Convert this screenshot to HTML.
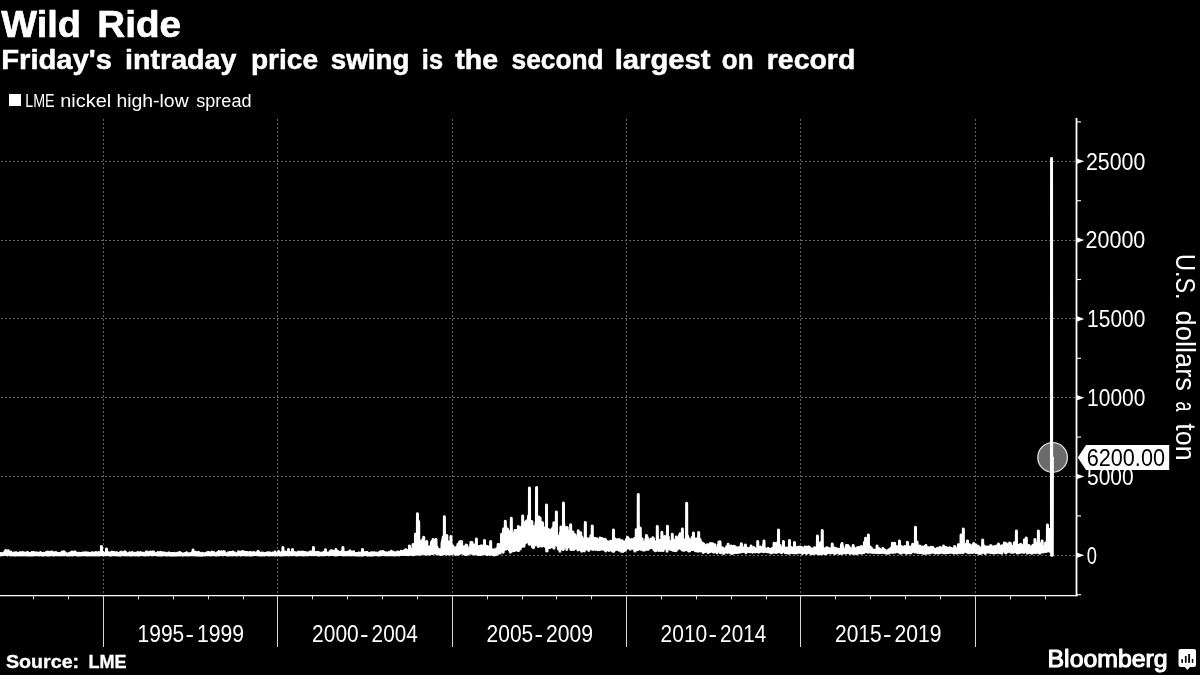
<!DOCTYPE html>
<html><head><meta charset="utf-8"><title>Wild Ride</title>
<style>
html,body{margin:0;padding:0;background:#000;}
body{width:1200px;height:675px;overflow:hidden;font-family:"Liberation Sans",sans-serif;}
svg{display:block;will-change:transform;}
text{font-family:"Liberation Sans",sans-serif;fill:#fff;}
.b{font-weight:bold;}
</style></head><body>
<svg width="1200" height="675" viewBox="0 0 1200 675">
<rect width="1200" height="675" fill="#000"/>
<rect x="9" y="94" width="12" height="12" fill="#fff"/>
<g stroke="#646464" stroke-width="1" stroke-dasharray="2 2" fill="none" shape-rendering="crispEdges">
<path d="M1 555.5 H1076.5"/>
<path d="M1 476.5 H1076.5"/>
<path d="M1 397.5 H1076.5"/>
<path d="M1 318.5 H1076.5"/>
<path d="M1 240.5 H1076.5"/>
<path d="M1 161.5 H1076.5"/>
<path d="M103.5 119 V595"/>
<path d="M277.5 119 V595"/>
<path d="M452.5 119 V595"/>
<path d="M626.5 119 V595"/>
<path d="M800.5 119 V595"/>
<path d="M975.5 119 V595"/>
</g>
<g stroke="#fff" fill="none">
<path d="M0 595.5 H1077.5" stroke-width="1.25"/>
<path d="M1076.5 118 V596.2" stroke-width="1.8"/>
<path d="M33.5 595 V599.4" stroke-width="1" stroke="#e0e0e0"/>
<path d="M68.5 595 V599.4" stroke-width="1" stroke="#e0e0e0"/>
<path d="M103.5 595 V647" stroke-width="1" stroke="#d8d8d8"/>
<path d="M138.5 595 V599.4" stroke-width="1" stroke="#e0e0e0"/>
<path d="M173.5 595 V599.4" stroke-width="1" stroke="#e0e0e0"/>
<path d="M208.5 595 V599.4" stroke-width="1" stroke="#e0e0e0"/>
<path d="M243.5 595 V599.4" stroke-width="1" stroke="#e0e0e0"/>
<path d="M277.5 595 V647" stroke-width="1" stroke="#d8d8d8"/>
<path d="M312.5 595 V599.4" stroke-width="1" stroke="#e0e0e0"/>
<path d="M347.5 595 V599.4" stroke-width="1" stroke="#e0e0e0"/>
<path d="M382.5 595 V599.4" stroke-width="1" stroke="#e0e0e0"/>
<path d="M417.5 595 V599.4" stroke-width="1" stroke="#e0e0e0"/>
<path d="M452.5 595 V647" stroke-width="1" stroke="#d8d8d8"/>
<path d="M487.5 595 V599.4" stroke-width="1" stroke="#e0e0e0"/>
<path d="M522.5 595 V599.4" stroke-width="1" stroke="#e0e0e0"/>
<path d="M556.5 595 V599.4" stroke-width="1" stroke="#e0e0e0"/>
<path d="M591.5 595 V599.4" stroke-width="1" stroke="#e0e0e0"/>
<path d="M626.5 595 V647" stroke-width="1" stroke="#d8d8d8"/>
<path d="M661.5 595 V599.4" stroke-width="1" stroke="#e0e0e0"/>
<path d="M696.5 595 V599.4" stroke-width="1" stroke="#e0e0e0"/>
<path d="M731.5 595 V599.4" stroke-width="1" stroke="#e0e0e0"/>
<path d="M766.5 595 V599.4" stroke-width="1" stroke="#e0e0e0"/>
<path d="M800.5 595 V647" stroke-width="1" stroke="#d8d8d8"/>
<path d="M835.5 595 V599.4" stroke-width="1" stroke="#e0e0e0"/>
<path d="M870.5 595 V599.4" stroke-width="1" stroke="#e0e0e0"/>
<path d="M905.5 595 V599.4" stroke-width="1" stroke="#e0e0e0"/>
<path d="M940.5 595 V599.4" stroke-width="1" stroke="#e0e0e0"/>
<path d="M975.5 595 V647" stroke-width="1" stroke="#d8d8d8"/>
<path d="M1010.5 595 V599.4" stroke-width="1" stroke="#e0e0e0"/>
<path d="M1045.5 595 V599.4" stroke-width="1" stroke="#e0e0e0"/>
<path d="M1076.5 594.7 H1081.0" stroke-width="1.1"/>
<path d="M1076.5 515.9 H1081.0" stroke-width="1.1"/>
<path d="M1076.5 437.1 H1081.0" stroke-width="1.1"/>
<path d="M1076.5 358.3 H1081.0" stroke-width="1.1"/>
<path d="M1076.5 279.5 H1081.0" stroke-width="1.1"/>
<path d="M1076.5 200.7 H1081.0" stroke-width="1.1"/>
<path d="M1076.5 121.9 H1081.0" stroke-width="1.1"/>
</g>
<path d="M1076.5 552.5 L1084.3 555.3 L1076.5 558.1 Z" fill="#fff"/>
<path d="M1076.5 473.7 L1084.3 476.5 L1076.5 479.3 Z" fill="#fff"/>
<path d="M1076.5 394.9 L1084.3 397.7 L1076.5 400.5 Z" fill="#fff"/>
<path d="M1076.5 316.1 L1084.3 318.9 L1076.5 321.7 Z" fill="#fff"/>
<path d="M1076.5 237.3 L1084.3 240.1 L1076.5 242.9 Z" fill="#fff"/>
<path d="M1076.5 158.5 L1084.3 161.3 L1076.5 164.1 Z" fill="#fff"/>
<circle cx="1052.6" cy="457.4" r="14.8" fill="#6b6b6b" stroke="#dcdcdc" stroke-width="1.3"/>
<path d="M0.00 554.1L0.13 554.6L0.27 554.4L0.40 553.5L0.53 554.9L0.67 554.1L0.80 553.5L0.93 554.4L1.07 554.3L1.20 554.7L1.33 554.1L1.47 554.3L1.60 553.7L1.73 554.0L1.87 553.8L2.00 554.4L2.13 554.4L2.27 554.3L2.40 554.3L2.53 554.8L2.67 553.8L2.80 554.0L2.93 554.7L3.07 554.6L3.20 554.4L3.33 554.1L3.47 554.4L3.60 554.1L3.73 553.3L3.87 554.4L4.00 553.5L4.13 554.1L4.27 553.3L4.40 553.6L4.53 554.2L4.67 554.2L4.80 551.9L4.93 552.6L5.07 553.0L5.20 552.9L5.33 553.9L5.47 551.0L5.60 552.6L5.73 554.5L5.87 550.5L6.00 552.6L6.13 554.3L6.27 553.2L6.40 552.7L6.53 551.7L6.67 552.8L6.80 553.9L6.93 554.4L7.07 553.3L7.20 554.4L7.33 553.1L7.47 554.9L7.60 551.0L7.73 554.4L7.87 553.6L8.00 552.9L8.13 551.2L8.27 550.7L8.40 554.1L8.53 551.7L8.67 553.4L8.80 554.3L8.93 554.3L9.07 554.1L9.20 553.8L9.33 553.8L9.47 553.0L9.60 554.1L9.73 552.2L9.87 554.1L10.00 554.7L10.13 553.9L10.27 553.7L10.40 555.0L10.53 553.7L10.67 553.9L10.80 552.0L10.93 553.6L11.07 554.9L11.20 554.8L11.33 554.9L11.47 553.0L11.60 554.7L11.73 553.4L11.87 554.6L12.00 554.5L12.13 554.6L12.27 553.6L12.40 554.1L12.53 554.6L12.67 554.7L12.80 553.6L12.93 553.4L13.07 553.8L13.20 554.0L13.33 554.7L13.47 554.8L13.60 554.1L13.73 552.9L13.87 553.8L14.00 554.6L14.13 553.8L14.27 553.2L14.40 553.5L14.53 555.0L14.67 554.6L14.80 554.5L14.93 553.5L15.07 554.9L15.20 555.0L15.33 553.8L15.47 554.1L15.60 553.5L15.73 554.7L15.87 552.7L16.00 554.4L16.13 554.2L16.27 554.4L16.40 554.8L16.53 552.8L16.67 554.3L16.80 554.3L16.93 554.6L17.07 554.1L17.20 554.7L17.33 554.8L17.47 555.0L17.60 554.6L17.73 554.3L17.87 554.3L18.00 554.6L18.13 553.6L18.27 554.8L18.40 554.8L18.53 553.7L18.67 554.5L18.80 554.7L18.93 553.7L19.07 554.9L19.20 553.8L19.33 554.8L19.47 554.5L19.60 554.6L19.73 555.0L19.87 554.8L20.00 552.7L20.13 554.4L20.27 554.5L20.40 552.7L20.53 554.7L20.67 553.9L20.80 554.6L20.93 554.4L21.07 554.5L21.20 554.6L21.33 553.1L21.47 554.1L21.60 554.5L21.73 554.9L21.87 554.5L22.00 554.4L22.13 553.3L22.27 552.9L22.40 554.8L22.53 554.8L22.67 553.7L22.80 554.9L22.93 552.4L23.07 554.3L23.20 554.4L23.33 554.4L23.47 554.4L23.60 554.4L23.73 553.5L23.87 554.6L24.00 554.5L24.13 554.5L24.27 554.6L24.40 553.4L24.53 553.7L24.67 555.0L24.80 554.2L24.93 553.1L25.07 554.4L25.20 554.4L25.33 553.7L25.47 554.6L25.60 553.4L25.73 553.4L25.87 553.5L26.00 553.7L26.13 554.4L26.27 553.8L26.40 554.4L26.53 553.1L26.67 554.7L26.80 554.8L26.93 554.6L27.07 554.9L27.20 554.5L27.33 552.5L27.47 552.4L27.60 554.4L27.73 552.6L27.87 553.9L28.00 554.7L28.13 554.5L28.27 553.6L28.40 554.2L28.53 555.0L28.67 554.3L28.80 554.4L28.93 554.4L29.07 554.2L29.20 554.3L29.33 554.6L29.47 554.6L29.60 554.1L29.73 555.1L29.87 554.4L30.00 553.5L30.13 554.1L30.27 553.6L30.40 554.4L30.53 554.4L30.67 555.0L30.80 553.7L30.93 554.8L31.07 554.0L31.20 554.4L31.33 554.8L31.47 555.0L31.60 554.7L31.73 554.7L31.87 554.4L32.00 552.6L32.13 554.9L32.27 554.7L32.40 554.8L32.53 554.9L32.67 554.7L32.80 554.5L32.93 553.6L33.07 554.2L33.20 554.8L33.33 552.4L33.47 554.7L33.60 554.8L33.73 554.5L33.87 554.3L34.00 554.9L34.13 554.3L34.27 554.8L34.40 553.7L34.53 554.2L34.67 554.2L34.80 552.7L34.93 554.6L35.07 554.5L35.20 554.3L35.33 554.5L35.47 554.7L35.60 553.7L35.73 553.4L35.87 553.3L36.00 554.3L36.13 554.3L36.27 554.3L36.40 553.8L36.53 554.7L36.67 552.9L36.80 554.2L36.93 554.1L37.07 553.0L37.20 553.2L37.33 554.5L37.47 554.3L37.60 553.2L37.73 553.8L37.87 554.2L38.00 554.5L38.13 554.8L38.27 554.3L38.40 554.4L38.53 554.6L38.67 554.1L38.80 554.3L38.93 554.0L39.07 554.3L39.20 554.6L39.33 554.9L39.47 554.3L39.60 554.6L39.73 552.9L39.87 554.8L40.00 553.8L40.13 554.8L40.27 554.7L40.40 554.6L40.53 552.6L40.67 554.7L40.80 554.2L40.93 553.3L41.07 554.4L41.20 554.3L41.33 553.6L41.47 554.5L41.60 553.7L41.73 553.6L41.87 555.0L42.00 554.1L42.13 554.8L42.27 554.6L42.40 554.1L42.53 554.7L42.67 555.1L42.80 553.6L42.93 555.0L43.07 554.2L43.20 553.4L43.33 554.2L43.47 554.6L43.60 554.7L43.73 554.6L43.87 553.2L44.00 554.1L44.13 554.9L44.27 554.0L44.40 553.4L44.53 554.2L44.67 554.9L44.80 554.8L44.93 554.5L45.07 554.6L45.20 553.6L45.33 554.6L45.47 553.4L45.60 553.7L45.73 553.8L45.87 553.2L46.00 554.8L46.13 554.7L46.27 552.6L46.40 554.4L46.53 553.9L46.67 554.4L46.80 554.3L46.93 554.3L47.07 554.5L47.20 554.0L47.33 555.0L47.47 553.5L47.60 552.7L47.73 554.4L47.87 552.1L48.00 554.3L48.13 553.8L48.27 554.3L48.40 554.2L48.53 554.9L48.67 554.5L48.80 554.8L48.93 554.8L49.07 554.9L49.20 554.2L49.33 554.2L49.47 554.6L49.60 553.9L49.73 555.0L49.87 553.9L50.00 553.3L50.13 552.2L50.27 553.9L50.40 553.2L50.53 554.5L50.67 553.7L50.80 554.7L50.93 554.1L51.07 553.6L51.20 552.4L51.33 554.4L51.47 553.6L51.60 552.6L51.73 553.1L51.87 554.7L52.00 552.1L52.13 554.4L52.27 554.6L52.40 554.2L52.53 553.6L52.67 554.6L52.80 554.3L52.93 552.4L53.07 554.6L53.20 554.2L53.33 553.2L53.47 554.8L53.60 554.0L53.73 553.8L53.87 554.7L54.00 555.1L54.13 553.4L54.27 553.1L54.40 554.2L54.53 554.8L54.67 553.8L54.80 554.4L54.93 554.1L55.07 554.4L55.20 554.5L55.33 554.6L55.47 554.2L55.60 554.4L55.73 554.4L55.87 552.4L56.00 553.5L56.13 553.8L56.27 554.0L56.40 553.3L56.53 553.8L56.67 553.9L56.80 554.8L56.93 554.2L57.07 554.6L57.20 554.5L57.33 554.0L57.47 554.5L57.60 554.5L57.73 553.6L57.87 553.6L58.00 553.6L58.13 553.9L58.27 554.7L58.40 554.5L58.53 554.7L58.67 554.5L58.80 554.0L58.93 554.8L59.07 553.6L59.20 554.7L59.33 553.9L59.47 553.9L59.60 554.1L59.73 554.4L59.87 554.3L60.00 554.9L60.13 553.9L60.27 554.2L60.40 553.7L60.53 554.4L60.67 554.8L60.80 554.2L60.93 553.3L61.07 553.8L61.20 554.4L61.33 554.8L61.47 553.0L61.60 554.6L61.73 553.5L61.87 553.1L62.00 554.2L62.13 554.9L62.27 552.0L62.40 554.4L62.53 553.9L62.67 554.6L62.80 552.4L62.93 553.7L63.07 552.3L63.20 552.4L63.33 554.4L63.47 554.4L63.60 554.8L63.73 554.7L63.87 552.6L64.00 551.8L64.13 552.7L64.27 554.4L64.40 554.2L64.53 554.0L64.67 554.1L64.80 554.4L64.93 554.7L65.07 553.3L65.20 554.2L65.33 553.1L65.47 553.4L65.60 554.3L65.73 554.2L65.87 554.4L66.00 554.4L66.13 554.5L66.27 554.4L66.40 554.1L66.53 554.8L66.67 554.9L66.80 554.3L66.93 554.9L67.07 554.1L67.20 554.8L67.33 554.6L67.47 554.1L67.60 554.5L67.73 555.1L67.87 555.0L68.00 554.9L68.13 554.7L68.27 554.1L68.40 554.6L68.53 554.3L68.67 554.6L68.80 554.0L68.93 554.4L69.07 554.9L69.20 555.0L69.33 554.0L69.47 553.3L69.60 554.9L69.73 553.9L69.87 553.9L70.00 554.5L70.13 553.9L70.27 554.3L70.40 554.8L70.53 554.1L70.67 554.5L70.80 554.1L70.93 553.5L71.07 554.7L71.20 554.2L71.33 552.5L71.47 554.5L71.60 554.6L71.73 554.2L71.87 555.0L72.00 552.8L72.13 551.9L72.27 554.0L72.40 554.6L72.53 554.6L72.67 554.3L72.80 555.0L72.93 554.0L73.07 553.4L73.20 554.5L73.33 553.6L73.47 554.8L73.60 553.4L73.73 554.6L73.87 553.5L74.00 554.5L74.13 552.7L74.27 552.2L74.40 553.7L74.53 554.1L74.67 554.4L74.80 552.1L74.93 553.8L75.07 554.5L75.20 553.0L75.33 552.0L75.47 554.1L75.60 553.9L75.73 552.9L75.87 554.3L76.00 554.6L76.13 553.6L76.27 554.8L76.40 554.5L76.53 554.9L76.67 554.6L76.80 554.7L76.93 554.7L77.07 554.2L77.20 555.0L77.33 553.8L77.47 553.6L77.60 554.5L77.73 554.8L77.87 554.9L78.00 554.3L78.13 554.5L78.27 554.3L78.40 553.2L78.53 553.9L78.67 554.7L78.80 554.8L78.93 554.1L79.07 554.3L79.20 554.8L79.33 553.5L79.47 553.7L79.60 553.9L79.73 553.2L79.87 554.9L80.00 554.0L80.13 553.9L80.27 554.3L80.40 554.3L80.53 554.3L80.67 554.1L80.80 554.2L80.93 554.5L81.07 554.0L81.20 554.3L81.33 553.6L81.47 554.9L81.60 553.6L81.73 554.4L81.87 554.0L82.00 553.9L82.13 554.4L82.27 554.1L82.40 554.4L82.53 553.2L82.67 554.7L82.80 554.6L82.93 553.3L83.07 553.5L83.20 553.7L83.33 553.4L83.47 553.9L83.60 553.4L83.73 553.5L83.87 554.3L84.00 554.5L84.13 554.1L84.27 554.7L84.40 554.1L84.53 553.7L84.67 553.1L84.80 554.7L84.93 554.1L85.07 554.5L85.20 554.9L85.33 554.4L85.47 553.7L85.60 553.4L85.73 552.8L85.87 554.3L86.00 554.0L86.13 554.2L86.27 554.4L86.40 553.6L86.53 554.4L86.67 554.7L86.80 554.9L86.93 554.0L87.07 553.0L87.20 554.1L87.33 554.6L87.47 553.8L87.60 554.2L87.73 554.2L87.87 554.7L88.00 554.4L88.13 555.0L88.27 553.1L88.40 555.0L88.53 554.6L88.67 554.6L88.80 554.2L88.93 554.2L89.07 553.7L89.20 554.1L89.33 554.1L89.47 553.5L89.60 554.2L89.73 553.9L89.87 553.6L90.00 554.9L90.13 554.5L90.27 554.1L90.40 554.2L90.53 554.1L90.67 554.6L90.80 554.0L90.93 554.3L91.07 554.7L91.20 553.0L91.33 553.4L91.47 554.9L91.60 553.7L91.73 554.6L91.87 554.8L92.00 554.1L92.13 552.8L92.27 554.7L92.40 554.4L92.53 553.7L92.67 553.7L92.80 554.4L92.93 553.8L93.07 554.6L93.20 554.2L93.33 554.0L93.47 554.3L93.60 554.6L93.73 554.8L93.87 554.5L94.00 553.1L94.13 553.5L94.27 555.0L94.40 554.6L94.53 553.5L94.67 554.4L94.80 554.1L94.93 554.9L95.07 554.0L95.20 554.1L95.33 554.5L95.47 554.4L95.60 553.8L95.73 553.9L95.87 554.8L96.00 552.6L96.13 554.4L96.27 553.3L96.40 554.7L96.53 554.6L96.67 554.7L96.80 553.1L96.93 554.9L97.07 554.5L97.20 554.9L97.33 554.9L97.47 553.8L97.60 554.6L97.73 554.2L97.87 554.8L98.00 554.4L98.13 554.8L98.27 554.7L98.40 554.8L98.53 553.8L98.67 554.0L98.80 552.4L98.93 554.1L99.07 553.9L99.20 554.3L99.33 553.7L99.47 554.9L99.60 553.2L99.73 554.7L99.87 554.2L100.00 554.7L100.13 554.4L100.27 553.7L100.40 554.2L100.53 554.0L100.67 553.9L100.80 554.2L100.93 554.4L101.07 552.9L101.20 553.6L101.33 553.9L101.47 546.5L101.60 553.6L101.73 553.8L101.87 551.8L102.00 554.0L102.13 554.6L102.27 553.6L102.40 554.7L102.53 551.9L102.67 555.0L102.80 553.5L102.93 554.4L103.07 553.9L103.20 553.8L103.33 552.7L103.47 553.0L103.60 554.0L103.73 554.1L103.87 554.3L104.00 554.8L104.13 553.3L104.27 554.8L104.40 554.1L104.53 554.3L104.67 554.5L104.80 554.1L104.93 554.3L105.07 553.6L105.20 554.8L105.33 553.3L105.47 553.8L105.60 554.5L105.73 553.8L105.87 554.5L106.00 554.7L106.13 554.5L106.27 553.9L106.40 553.5L106.53 549.0L106.67 553.8L106.80 554.6L106.93 552.3L107.07 552.9L107.20 552.1L107.33 553.4L107.47 553.4L107.60 554.6L107.73 552.9L107.87 554.4L108.00 553.5L108.13 554.2L108.27 554.6L108.40 554.5L108.53 554.8L108.67 554.7L108.80 554.3L108.93 553.1L109.07 554.7L109.20 554.7L109.33 554.0L109.47 554.7L109.60 554.4L109.73 554.7L109.87 554.7L110.00 554.5L110.13 554.2L110.27 554.8L110.40 555.1L110.53 553.8L110.67 552.9L110.80 554.5L110.93 554.9L111.07 554.7L111.20 554.8L111.33 554.3L111.47 554.7L111.60 552.3L111.73 554.1L111.87 554.5L112.00 553.0L112.13 553.8L112.27 554.7L112.40 552.2L112.53 554.8L112.67 554.6L112.80 554.5L112.93 554.0L113.07 554.1L113.20 554.8L113.33 553.8L113.47 553.0L113.60 554.8L113.73 552.8L113.87 552.7L114.00 554.6L114.13 552.4L114.27 554.0L114.40 553.4L114.53 554.4L114.67 554.6L114.80 553.8L114.93 554.7L115.07 553.9L115.20 554.4L115.33 553.7L115.47 554.1L115.60 554.6L115.73 553.2L115.87 552.9L116.00 553.4L116.13 553.8L116.27 554.4L116.40 553.4L116.53 553.3L116.67 552.7L116.80 552.7L116.93 554.8L117.07 554.5L117.20 554.9L117.33 554.3L117.47 554.2L117.60 553.9L117.73 553.4L117.87 554.8L118.00 554.4L118.13 554.7L118.27 554.3L118.40 555.0L118.53 554.8L118.67 553.5L118.80 554.1L118.93 553.6L119.07 554.8L119.20 554.9L119.33 554.1L119.47 554.2L119.60 554.2L119.73 554.8L119.87 554.5L120.00 554.2L120.13 554.7L120.27 555.1L120.40 553.8L120.53 553.6L120.67 552.2L120.80 553.4L120.93 553.5L121.07 554.4L121.20 552.9L121.33 554.7L121.47 552.3L121.60 554.9L121.73 553.6L121.87 553.9L122.00 554.4L122.13 553.8L122.27 554.2L122.40 552.7L122.53 552.8L122.67 553.0L122.80 553.7L122.93 554.0L123.07 554.5L123.20 553.9L123.33 553.0L123.47 554.4L123.60 554.3L123.73 554.4L123.87 554.2L124.00 553.5L124.13 554.9L124.27 554.0L124.40 552.2L124.53 554.8L124.67 552.9L124.80 553.9L124.93 551.8L125.07 554.8L125.20 553.8L125.33 553.7L125.47 552.2L125.60 553.0L125.73 554.8L125.87 554.3L126.00 554.2L126.13 553.8L126.27 554.6L126.40 553.7L126.53 554.2L126.67 554.1L126.80 553.8L126.93 553.9L127.07 554.4L127.20 553.9L127.33 553.8L127.47 554.3L127.60 554.8L127.73 554.2L127.87 554.3L128.00 554.9L128.13 553.7L128.27 554.1L128.40 554.8L128.53 553.8L128.67 554.6L128.80 554.4L128.93 554.1L129.07 554.8L129.20 554.8L129.33 553.4L129.47 553.1L129.60 554.7L129.73 552.8L129.87 554.9L130.00 553.8L130.13 553.9L130.27 554.6L130.40 554.4L130.53 554.6L130.67 554.3L130.80 554.7L130.93 555.1L131.07 554.4L131.20 554.7L131.33 554.7L131.47 554.1L131.60 553.9L131.73 554.5L131.87 553.1L132.00 554.7L132.13 554.0L132.27 552.5L132.40 554.7L132.53 553.7L132.67 554.6L132.80 553.3L132.93 554.4L133.07 554.2L133.20 555.0L133.33 554.5L133.47 553.9L133.60 553.9L133.73 553.7L133.87 553.9L134.00 553.9L134.13 554.7L134.27 554.0L134.40 554.8L134.53 554.7L134.67 554.5L134.80 554.7L134.93 553.2L135.07 554.6L135.20 554.0L135.33 553.7L135.47 554.2L135.60 554.9L135.73 554.8L135.87 554.5L136.00 554.7L136.13 553.3L136.27 554.3L136.40 554.7L136.53 554.3L136.67 554.7L136.80 554.6L136.93 554.7L137.07 553.6L137.20 554.6L137.33 554.9L137.47 554.9L137.60 554.7L137.73 554.5L137.87 552.5L138.00 554.7L138.13 554.2L138.27 554.4L138.40 553.9L138.53 553.7L138.67 553.7L138.80 553.4L138.93 554.5L139.07 554.9L139.20 554.7L139.33 554.8L139.47 555.0L139.60 554.7L139.73 553.6L139.87 553.2L140.00 553.4L140.13 553.4L140.27 554.5L140.40 554.5L140.53 552.6L140.67 552.7L140.80 554.4L140.93 554.4L141.07 554.4L141.20 554.2L141.33 554.3L141.47 554.4L141.60 554.0L141.73 554.2L141.87 554.7L142.00 554.1L142.13 554.2L142.27 554.3L142.40 554.2L142.53 554.7L142.67 554.2L142.80 554.2L142.93 554.4L143.07 553.7L143.20 553.1L143.33 554.6L143.47 554.4L143.60 554.8L143.73 553.7L143.87 554.5L144.00 554.5L144.13 554.1L144.27 554.4L144.40 554.1L144.53 554.9L144.67 554.0L144.80 554.7L144.93 554.2L145.07 554.9L145.20 554.1L145.33 555.0L145.47 554.5L145.60 553.4L145.73 553.9L145.87 552.6L146.00 554.2L146.13 554.6L146.27 552.0L146.40 553.7L146.53 553.0L146.67 554.6L146.80 552.6L146.93 553.0L147.07 552.1L147.20 553.6L147.33 553.4L147.47 554.8L147.60 554.7L147.73 553.4L147.87 553.5L148.00 552.7L148.13 553.8L148.27 554.8L148.40 553.9L148.53 554.9L148.67 552.7L148.80 553.8L148.93 554.7L149.07 554.2L149.20 554.3L149.33 554.2L149.47 554.5L149.60 552.5L149.73 554.5L149.87 552.4L150.00 553.1L150.13 554.3L150.27 553.0L150.40 554.6L150.53 554.2L150.67 553.7L150.80 551.9L150.93 553.8L151.07 553.9L151.20 553.6L151.33 553.3L151.47 554.3L151.60 554.7L151.73 554.2L151.87 553.8L152.00 552.5L152.13 554.4L152.27 553.4L152.40 554.4L152.53 555.0L152.67 554.0L152.80 554.6L152.93 552.0L153.07 554.1L153.20 554.6L153.33 553.9L153.47 552.5L153.60 553.9L153.73 551.9L153.87 554.1L154.00 554.1L154.13 554.1L154.27 554.0L154.40 554.5L154.53 554.1L154.67 553.6L154.80 554.6L154.93 553.8L155.07 554.2L155.20 554.5L155.33 554.6L155.47 554.4L155.60 554.4L155.73 553.9L155.87 554.7L156.00 554.5L156.13 554.5L156.27 553.6L156.40 553.5L156.53 554.4L156.67 554.5L156.80 554.4L156.93 553.4L157.07 554.7L157.20 554.0L157.33 554.3L157.47 554.5L157.60 554.3L157.73 554.7L157.87 554.9L158.00 552.6L158.13 554.4L158.27 554.8L158.40 554.5L158.53 553.2L158.67 554.6L158.80 554.2L158.93 555.0L159.07 554.5L159.20 555.0L159.33 555.0L159.47 554.7L159.60 554.7L159.73 552.8L159.87 554.2L160.00 553.2L160.13 554.9L160.27 554.7L160.40 553.9L160.53 552.3L160.67 554.5L160.80 552.7L160.93 555.0L161.07 554.4L161.20 554.4L161.33 554.7L161.47 554.9L161.60 554.7L161.73 554.7L161.87 553.9L162.00 554.2L162.13 554.6L162.27 554.9L162.40 554.8L162.53 553.9L162.67 553.2L162.80 555.0L162.93 552.8L163.07 554.6L163.20 554.5L163.33 554.5L163.47 553.7L163.60 554.4L163.73 553.9L163.87 554.4L164.00 554.6L164.13 553.2L164.27 553.6L164.40 554.2L164.53 553.5L164.67 554.5L164.80 553.9L164.93 553.3L165.07 554.3L165.20 553.9L165.33 554.8L165.47 555.0L165.60 554.6L165.73 554.8L165.87 554.6L166.00 554.6L166.13 553.8L166.27 553.2L166.40 554.8L166.53 554.9L166.67 554.8L166.80 554.4L166.93 554.4L167.07 554.6L167.20 554.3L167.33 554.9L167.47 554.0L167.60 554.8L167.73 554.1L167.87 554.9L168.00 554.3L168.13 554.4L168.27 554.5L168.40 554.2L168.53 554.4L168.67 554.6L168.80 554.4L168.93 553.0L169.07 554.1L169.20 552.9L169.33 554.5L169.47 553.7L169.60 553.2L169.73 554.9L169.87 554.1L170.00 554.5L170.13 554.8L170.27 553.5L170.40 554.5L170.53 554.8L170.67 553.7L170.80 554.7L170.93 554.1L171.07 554.9L171.20 555.1L171.33 555.0L171.47 554.4L171.60 553.5L171.73 554.9L171.87 554.1L172.00 554.6L172.13 554.9L172.27 554.8L172.40 553.7L172.53 553.6L172.67 554.4L172.80 555.0L172.93 554.2L173.07 555.0L173.20 555.0L173.33 553.6L173.47 554.8L173.60 554.6L173.73 554.9L173.87 555.1L174.00 553.8L174.13 554.7L174.27 553.9L174.40 554.8L174.53 553.3L174.67 554.4L174.80 554.8L174.93 554.8L175.07 555.0L175.20 554.1L175.33 554.6L175.47 555.0L175.60 554.9L175.73 554.2L175.87 554.7L176.00 554.2L176.13 554.4L176.27 555.0L176.40 554.3L176.53 554.4L176.67 555.0L176.80 553.8L176.93 554.6L177.07 555.0L177.20 553.3L177.33 554.8L177.47 554.7L177.60 554.4L177.73 554.2L177.87 554.8L178.00 554.6L178.13 553.6L178.27 553.0L178.40 553.9L178.53 554.1L178.67 554.8L178.80 553.9L178.93 554.7L179.07 554.9L179.20 553.7L179.33 553.0L179.47 554.0L179.60 553.6L179.73 554.5L179.87 554.1L180.00 552.6L180.13 554.8L180.27 554.3L180.40 554.2L180.53 553.8L180.67 554.9L180.80 553.6L180.93 553.4L181.07 553.9L181.20 553.8L181.33 554.3L181.47 553.5L181.60 554.1L181.73 554.8L181.87 554.4L182.00 554.8L182.13 554.8L182.27 554.8L182.40 554.1L182.53 554.5L182.67 554.6L182.80 555.1L182.93 554.4L183.07 554.4L183.20 554.9L183.33 554.1L183.47 554.9L183.60 554.9L183.73 554.8L183.87 554.0L184.00 555.0L184.13 554.7L184.27 554.0L184.40 554.3L184.53 554.3L184.67 554.6L184.80 554.2L184.93 554.2L185.07 553.5L185.20 554.4L185.33 554.7L185.47 553.9L185.60 554.7L185.73 553.7L185.87 554.7L186.00 553.5L186.13 554.5L186.27 554.7L186.40 554.3L186.53 554.6L186.67 553.8L186.80 552.7L186.93 554.5L187.07 554.7L187.20 554.9L187.33 554.5L187.47 554.0L187.60 553.9L187.73 554.2L187.87 554.1L188.00 553.9L188.13 554.6L188.27 554.8L188.40 554.4L188.53 554.6L188.67 554.7L188.80 554.7L188.93 554.5L189.07 554.0L189.20 554.7L189.33 554.3L189.47 553.9L189.60 554.8L189.73 554.4L189.87 554.6L190.00 554.8L190.13 554.0L190.27 553.7L190.40 554.3L190.53 554.3L190.67 553.9L190.80 554.8L190.93 553.5L191.07 554.4L191.20 554.6L191.33 553.2L191.47 553.6L191.60 554.2L191.73 554.2L191.87 554.8L192.00 554.9L192.13 553.9L192.27 554.0L192.40 554.3L192.53 554.6L192.67 554.2L192.80 554.7L192.93 554.3L193.07 550.0L193.20 553.8L193.33 552.8L193.47 553.7L193.60 554.3L193.73 553.2L193.87 554.3L194.00 554.2L194.13 554.5L194.27 554.2L194.40 554.6L194.53 553.7L194.67 554.4L194.80 553.5L194.93 553.5L195.07 554.4L195.20 553.8L195.33 555.0L195.47 555.0L195.60 553.7L195.73 554.8L195.87 552.2L196.00 555.0L196.13 553.4L196.27 554.5L196.40 554.7L196.53 554.2L196.67 555.0L196.80 553.6L196.93 554.4L197.07 554.4L197.20 554.6L197.33 553.3L197.47 553.5L197.60 555.0L197.73 553.4L197.87 554.5L198.00 554.5L198.13 554.4L198.27 554.2L198.40 554.2L198.53 552.3L198.67 554.4L198.80 554.6L198.93 554.2L199.07 554.9L199.20 554.0L199.33 554.0L199.47 554.8L199.60 554.6L199.73 555.1L199.87 553.2L200.00 554.2L200.13 554.1L200.27 554.8L200.40 555.1L200.53 554.3L200.67 554.2L200.80 554.8L200.93 554.6L201.07 554.2L201.20 554.5L201.33 554.2L201.47 554.2L201.60 554.4L201.73 554.9L201.87 554.2L202.00 554.9L202.13 554.8L202.27 554.8L202.40 555.1L202.53 553.3L202.67 554.8L202.80 554.5L202.93 553.6L203.07 554.6L203.20 554.4L203.33 554.9L203.47 554.5L203.60 553.8L203.73 554.6L203.87 553.8L204.00 554.6L204.13 554.6L204.27 554.6L204.40 554.5L204.53 554.8L204.67 554.2L204.80 554.9L204.93 554.5L205.07 553.8L205.20 554.6L205.33 554.9L205.47 554.4L205.60 554.9L205.73 554.2L205.87 553.8L206.00 554.6L206.13 554.6L206.27 553.3L206.40 554.3L206.53 554.8L206.67 554.8L206.80 554.1L206.93 554.7L207.07 552.8L207.20 553.3L207.33 553.5L207.47 554.4L207.60 552.9L207.73 554.7L207.87 553.9L208.00 553.2L208.13 554.4L208.27 552.6L208.40 553.5L208.53 554.8L208.67 553.2L208.80 554.8L208.93 554.1L209.07 553.9L209.20 554.6L209.33 554.5L209.47 553.8L209.60 554.2L209.73 552.9L209.87 554.5L210.00 554.8L210.13 554.9L210.27 553.4L210.40 553.6L210.53 553.3L210.67 553.7L210.80 554.8L210.93 554.9L211.07 553.6L211.20 553.7L211.33 553.3L211.47 554.4L211.60 554.0L211.73 553.2L211.87 554.3L212.00 552.3L212.13 552.1L212.27 553.4L212.40 553.5L212.53 554.0L212.67 554.4L212.80 554.8L212.93 553.9L213.07 554.1L213.20 554.8L213.33 554.2L213.47 554.5L213.60 554.1L213.73 552.5L213.87 552.8L214.00 554.7L214.13 553.1L214.27 553.7L214.40 554.0L214.53 554.0L214.67 554.2L214.80 554.8L214.93 554.7L215.07 553.9L215.20 554.5L215.33 554.3L215.47 554.4L215.60 554.8L215.73 555.0L215.87 554.1L216.00 554.2L216.13 554.4L216.27 554.0L216.40 554.5L216.53 554.7L216.67 554.9L216.80 554.2L216.93 553.0L217.07 553.8L217.20 554.7L217.33 554.6L217.47 554.2L217.60 554.1L217.73 554.4L217.87 553.8L218.00 554.4L218.13 554.1L218.27 554.5L218.40 552.2L218.53 554.1L218.67 554.9L218.80 554.2L218.93 553.6L219.07 551.6L219.20 554.3L219.33 553.2L219.47 552.1L219.60 554.8L219.73 553.7L219.87 554.0L220.00 553.9L220.13 554.6L220.27 554.4L220.40 554.0L220.53 554.1L220.67 553.8L220.80 554.5L220.93 553.9L221.07 553.5L221.20 553.0L221.33 554.5L221.47 553.6L221.60 553.8L221.73 551.8L221.87 554.2L222.00 553.1L222.13 554.7L222.27 552.9L222.40 553.2L222.53 554.5L222.67 554.9L222.80 554.8L222.93 554.2L223.07 554.1L223.20 554.4L223.33 553.1L223.47 554.7L223.60 551.7L223.73 554.5L223.87 553.7L224.00 553.0L224.13 554.2L224.27 554.2L224.40 551.8L224.53 553.4L224.67 553.9L224.80 553.5L224.93 553.5L225.07 554.0L225.20 554.6L225.33 554.2L225.47 554.0L225.60 553.6L225.73 554.1L225.87 554.2L226.00 554.6L226.13 554.0L226.27 554.2L226.40 554.8L226.53 554.3L226.67 554.8L226.80 554.9L226.93 554.7L227.07 554.7L227.20 554.4L227.33 554.5L227.47 554.5L227.60 554.9L227.73 554.9L227.87 554.2L228.00 553.1L228.13 553.7L228.27 553.4L228.40 554.4L228.53 553.0L228.67 554.4L228.80 555.0L228.93 554.7L229.07 553.9L229.20 554.5L229.33 554.5L229.47 554.1L229.60 554.0L229.73 554.8L229.87 553.5L230.00 552.6L230.13 553.7L230.27 553.7L230.40 553.9L230.53 554.6L230.67 554.6L230.80 553.4L230.93 553.9L231.07 554.5L231.20 554.2L231.33 554.1L231.47 552.4L231.60 554.3L231.73 553.5L231.87 554.9L232.00 553.7L232.13 554.3L232.27 554.6L232.40 554.8L232.53 554.1L232.67 554.3L232.80 553.0L232.93 552.0L233.07 553.5L233.20 554.4L233.33 554.4L233.47 554.7L233.60 554.0L233.73 554.8L233.87 554.1L234.00 553.2L234.13 553.9L234.27 554.0L234.40 554.7L234.53 554.5L234.67 554.2L234.80 554.5L234.93 554.6L235.07 552.9L235.20 554.6L235.33 554.0L235.47 553.7L235.60 553.5L235.73 553.5L235.87 554.5L236.00 553.8L236.13 554.6L236.27 554.5L236.40 553.9L236.53 554.3L236.67 555.0L236.80 554.8L236.93 555.0L237.07 555.0L237.20 554.1L237.33 554.7L237.47 554.7L237.60 554.1L237.73 554.7L237.87 554.2L238.00 554.7L238.13 554.0L238.27 554.3L238.40 553.8L238.53 551.8L238.67 553.7L238.80 554.4L238.93 553.3L239.07 553.2L239.20 553.5L239.33 552.4L239.47 553.3L239.60 554.1L239.73 552.5L239.87 553.4L240.00 554.4L240.13 554.4L240.27 553.9L240.40 554.9L240.53 554.8L240.67 554.8L240.80 554.2L240.93 555.0L241.07 554.3L241.20 553.2L241.33 554.7L241.47 552.0L241.60 554.2L241.73 554.2L241.87 553.5L242.00 553.4L242.13 552.8L242.27 552.8L242.40 554.8L242.53 554.7L242.67 551.4L242.80 553.1L242.93 553.7L243.07 554.0L243.20 554.6L243.33 553.7L243.47 552.7L243.60 554.4L243.73 553.6L243.87 553.9L244.00 554.2L244.13 554.2L244.27 554.7L244.40 552.3L244.53 554.4L244.67 554.2L244.80 552.2L244.93 553.0L245.07 554.0L245.20 554.1L245.33 555.0L245.47 554.3L245.60 554.0L245.73 554.7L245.87 554.3L246.00 553.6L246.13 554.1L246.27 554.2L246.40 552.6L246.53 552.8L246.67 554.4L246.80 554.2L246.93 554.4L247.07 554.6L247.20 554.9L247.33 554.7L247.47 552.5L247.60 554.7L247.73 554.2L247.87 552.7L248.00 554.0L248.13 553.7L248.27 553.9L248.40 553.8L248.53 553.9L248.67 554.5L248.80 554.3L248.93 554.0L249.07 552.7L249.20 553.7L249.33 554.4L249.47 554.6L249.60 555.1L249.73 554.7L249.87 553.7L250.00 553.5L250.13 553.8L250.27 554.3L250.40 552.8L250.53 554.9L250.67 552.6L250.80 553.1L250.93 554.4L251.07 554.2L251.20 553.4L251.33 554.6L251.47 553.3L251.60 553.8L251.73 554.6L251.87 554.9L252.00 553.7L252.13 553.3L252.27 553.7L252.40 554.8L252.53 554.1L252.67 554.8L252.80 554.5L252.93 554.0L253.07 554.7L253.20 554.2L253.33 553.6L253.47 554.3L253.60 554.8L253.73 552.6L253.87 553.5L254.00 554.2L254.13 552.8L254.27 553.4L254.40 553.3L254.53 554.6L254.67 554.4L254.80 553.7L254.93 554.6L255.07 553.6L255.20 553.8L255.33 553.7L255.47 553.7L255.60 554.6L255.73 554.5L255.87 553.2L256.00 554.5L256.13 554.6L256.27 553.7L256.40 553.3L256.53 554.3L256.67 553.7L256.80 554.3L256.93 554.2L257.07 553.9L257.20 553.6L257.33 554.2L257.47 553.7L257.60 552.1L257.73 554.4L257.87 552.1L258.00 551.7L258.13 551.4L258.27 554.9L258.40 551.9L258.53 554.4L258.67 554.5L258.80 554.0L258.93 554.5L259.07 553.2L259.20 552.7L259.33 553.2L259.47 554.5L259.60 554.9L259.73 554.7L259.87 554.6L260.00 553.4L260.13 554.4L260.27 554.9L260.40 554.6L260.53 554.1L260.67 553.8L260.80 554.5L260.93 554.7L261.07 554.9L261.20 554.6L261.33 554.0L261.47 554.9L261.60 553.3L261.73 554.5L261.87 553.0L262.00 554.1L262.13 553.9L262.27 554.1L262.40 554.4L262.53 554.8L262.67 554.7L262.80 554.7L262.93 554.3L263.07 553.3L263.20 555.0L263.33 554.9L263.47 554.8L263.60 554.2L263.73 555.0L263.87 553.2L264.00 554.5L264.13 554.4L264.27 554.3L264.40 554.3L264.53 554.9L264.67 554.8L264.80 554.9L264.93 554.8L265.07 554.8L265.20 553.8L265.33 554.8L265.47 554.4L265.60 553.5L265.73 554.0L265.87 554.5L266.00 554.6L266.13 554.6L266.27 553.6L266.40 554.2L266.53 554.5L266.67 554.6L266.80 553.6L266.93 553.8L267.07 553.6L267.20 554.2L267.33 554.8L267.47 552.7L267.60 554.6L267.73 554.7L267.87 554.2L268.00 554.4L268.13 554.0L268.27 554.2L268.40 554.7L268.53 554.8L268.67 555.0L268.80 552.9L268.93 554.6L269.07 553.3L269.20 554.2L269.33 553.1L269.47 553.1L269.60 554.4L269.73 554.8L269.87 554.7L270.00 554.7L270.13 553.1L270.27 554.4L270.40 554.7L270.53 554.3L270.67 554.4L270.80 554.4L270.93 554.4L271.07 553.7L271.20 554.5L271.33 554.8L271.47 554.6L271.60 553.5L271.73 554.2L271.87 554.5L272.00 553.2L272.13 554.6L272.27 554.3L272.40 553.7L272.53 554.3L272.67 552.9L272.80 554.7L272.93 554.3L273.07 554.3L273.20 554.3L273.33 553.7L273.47 554.1L273.60 553.7L273.73 553.6L273.87 554.7L274.00 552.9L274.13 554.1L274.27 553.8L274.40 554.9L274.53 554.5L274.67 554.4L274.80 553.4L274.93 552.9L275.07 552.0L275.20 553.6L275.33 554.4L275.47 554.7L275.60 553.9L275.73 554.9L275.87 554.6L276.00 554.4L276.13 553.5L276.27 554.2L276.40 554.3L276.53 554.6L276.67 554.0L276.80 554.6L276.93 554.7L277.07 554.8L277.20 553.7L277.33 553.6L277.47 554.4L277.60 554.5L277.73 554.4L277.87 553.8L278.00 553.8L278.13 554.1L278.27 553.7L278.40 554.1L278.53 554.1L278.67 551.4L278.80 554.3L278.93 554.0L279.07 554.5L279.20 553.7L279.33 552.8L279.47 554.4L279.60 554.6L279.73 554.6L279.87 554.6L280.00 554.9L280.13 554.7L280.27 554.6L280.40 553.4L280.53 554.3L280.67 554.5L280.80 554.4L280.93 553.2L281.07 554.9L281.20 553.3L281.33 553.8L281.47 554.7L281.60 554.9L281.73 555.0L281.87 553.9L282.00 554.6L282.13 554.6L282.27 554.4L282.40 554.1L282.53 553.2L282.67 554.3L282.80 554.8L282.93 547.5L283.07 553.7L283.20 553.5L283.33 554.2L283.47 554.7L283.60 552.2L283.73 552.9L283.87 553.7L284.00 551.9L284.13 553.1L284.27 553.2L284.40 554.3L284.53 552.7L284.67 554.6L284.80 554.2L284.93 552.6L285.07 554.8L285.20 554.3L285.33 554.3L285.47 552.0L285.60 554.7L285.73 554.3L285.87 554.0L286.00 553.3L286.13 553.7L286.27 554.0L286.40 554.4L286.53 553.3L286.67 554.7L286.80 552.7L286.93 553.1L287.07 552.8L287.20 554.6L287.33 554.6L287.47 554.0L287.60 553.9L287.73 553.8L287.87 553.5L288.00 553.3L288.13 553.6L288.27 554.8L288.40 555.0L288.53 549.5L288.67 554.4L288.80 553.8L288.93 554.3L289.07 554.5L289.20 553.9L289.33 554.8L289.47 553.1L289.60 552.8L289.73 553.2L289.87 554.2L290.00 552.6L290.13 554.0L290.27 554.6L290.40 554.5L290.53 553.3L290.67 554.4L290.80 554.6L290.93 554.3L291.07 554.1L291.20 554.1L291.33 554.2L291.47 554.6L291.60 553.5L291.73 554.0L291.87 554.2L292.00 554.7L292.13 554.4L292.27 553.9L292.40 553.2L292.53 549.5L292.67 554.3L292.80 553.1L292.93 554.8L293.07 554.2L293.20 554.4L293.33 552.5L293.47 553.6L293.60 553.8L293.73 552.7L293.87 553.9L294.00 554.6L294.13 553.0L294.27 554.0L294.40 553.2L294.53 554.3L294.67 554.0L294.80 554.0L294.93 553.3L295.07 553.1L295.20 552.6L295.33 552.7L295.47 553.6L295.60 553.8L295.73 554.4L295.87 553.8L296.00 554.7L296.13 555.1L296.27 553.8L296.40 554.4L296.53 554.2L296.67 554.6L296.80 554.7L296.93 554.5L297.07 555.0L297.20 554.7L297.33 554.5L297.47 554.0L297.60 554.8L297.73 554.1L297.87 554.8L298.00 552.2L298.13 553.2L298.27 554.1L298.40 553.7L298.53 554.0L298.67 554.8L298.80 552.3L298.93 553.9L299.07 554.5L299.20 554.1L299.33 554.7L299.47 553.7L299.60 554.8L299.73 553.1L299.87 552.3L300.00 554.6L300.13 553.8L300.27 554.4L300.40 553.8L300.53 554.6L300.67 553.6L300.80 554.8L300.93 554.4L301.07 554.1L301.20 553.2L301.33 554.0L301.47 552.2L301.60 554.4L301.73 552.7L301.87 553.9L302.00 553.8L302.13 554.6L302.27 554.6L302.40 553.9L302.53 553.7L302.67 554.7L302.80 554.7L302.93 552.1L303.07 554.5L303.20 553.9L303.33 554.9L303.47 554.5L303.60 554.5L303.73 554.7L303.87 553.6L304.00 553.3L304.13 554.5L304.27 553.8L304.40 554.9L304.53 554.4L304.67 553.3L304.80 552.4L304.93 554.1L305.07 554.2L305.20 554.0L305.33 554.6L305.47 553.7L305.60 554.3L305.73 553.8L305.87 554.2L306.00 554.7L306.13 553.1L306.27 552.7L306.40 553.2L306.53 554.9L306.67 554.6L306.80 554.4L306.93 553.9L307.07 554.5L307.20 554.0L307.33 554.7L307.47 554.6L307.60 554.4L307.73 554.1L307.87 552.9L308.00 554.1L308.13 554.2L308.27 554.7L308.40 554.1L308.53 554.0L308.67 553.8L308.80 552.8L308.93 553.9L309.07 553.1L309.20 554.4L309.33 553.9L309.47 554.6L309.60 554.6L309.73 554.1L309.87 553.6L310.00 553.7L310.13 554.0L310.27 554.3L310.40 552.1L310.53 552.2L310.67 554.2L310.80 553.5L310.93 554.5L311.07 554.6L311.20 553.6L311.33 551.9L311.47 554.4L311.60 554.1L311.73 554.2L311.87 553.3L312.00 554.2L312.13 554.4L312.27 554.4L312.40 554.6L312.53 553.5L312.67 554.3L312.80 554.3L312.93 554.0L313.07 553.8L313.20 553.8L313.33 554.5L313.47 547.5L313.60 554.5L313.73 554.0L313.87 554.8L314.00 554.4L314.13 552.9L314.27 554.7L314.40 554.4L314.53 553.9L314.67 553.8L314.80 553.0L314.93 554.1L315.07 554.1L315.20 553.8L315.33 553.3L315.47 553.6L315.60 553.7L315.73 553.8L315.87 554.4L316.00 553.9L316.13 552.5L316.27 554.5L316.40 554.5L316.53 553.0L316.67 552.7L316.80 552.5L316.93 554.6L317.07 554.4L317.20 554.7L317.33 554.9L317.47 554.5L317.60 554.3L317.73 554.2L317.87 552.9L318.00 552.4L318.13 554.1L318.27 552.5L318.40 553.3L318.53 554.1L318.67 555.0L318.80 553.5L318.93 554.6L319.07 554.3L319.20 554.2L319.33 553.6L319.47 554.9L319.60 554.2L319.73 553.7L319.87 554.9L320.00 553.1L320.13 554.6L320.27 554.7L320.40 554.3L320.53 554.2L320.67 554.7L320.80 553.5L320.93 554.6L321.07 554.1L321.20 554.7L321.33 554.3L321.47 553.7L321.60 553.4L321.73 554.3L321.87 553.8L322.00 554.8L322.13 553.3L322.27 554.1L322.40 554.4L322.53 553.7L322.67 554.8L322.80 553.1L322.93 554.1L323.07 553.3L323.20 554.0L323.33 552.7L323.47 554.6L323.60 554.1L323.73 552.4L323.87 554.2L324.00 553.4L324.13 553.5L324.27 553.6L324.40 554.9L324.53 554.8L324.67 553.1L324.80 552.6L324.93 554.6L325.07 554.7L325.20 553.3L325.33 553.3L325.47 549.8L325.60 553.9L325.73 554.2L325.87 552.6L326.00 553.2L326.13 554.2L326.27 554.2L326.40 554.0L326.53 552.8L326.67 554.3L326.80 554.3L326.93 553.6L327.07 554.6L327.20 553.5L327.33 553.3L327.47 553.7L327.60 554.1L327.73 553.5L327.87 554.5L328.00 554.2L328.13 553.7L328.27 553.2L328.40 554.1L328.53 553.8L328.67 554.8L328.80 554.4L328.93 553.5L329.07 554.3L329.20 554.9L329.33 554.2L329.47 553.5L329.60 554.1L329.73 552.4L329.87 553.3L330.00 551.8L330.13 553.3L330.27 553.2L330.40 553.9L330.53 554.5L330.67 554.0L330.80 554.1L330.93 553.2L331.07 553.7L331.20 553.7L331.33 550.8L331.47 553.9L331.60 550.8L331.73 554.6L331.87 553.9L332.00 553.9L332.13 554.5L332.27 553.7L332.40 554.3L332.53 552.3L332.67 552.9L332.80 553.6L332.93 553.8L333.07 554.0L333.20 553.7L333.33 551.2L333.47 553.4L333.60 553.3L333.73 553.2L333.87 554.3L334.00 552.2L334.13 552.3L334.27 553.0L334.40 554.2L334.53 554.9L334.67 552.0L334.80 554.0L334.93 554.7L335.07 554.2L335.20 551.8L335.33 554.9L335.47 553.4L335.60 554.3L335.73 553.5L335.87 554.7L336.00 549.5L336.13 554.1L336.27 554.7L336.40 553.5L336.53 554.8L336.67 553.2L336.80 553.0L336.93 555.0L337.07 554.6L337.20 554.1L337.33 554.2L337.47 553.4L337.60 552.2L337.73 553.4L337.87 553.2L338.00 551.5L338.13 554.5L338.27 553.8L338.40 554.7L338.53 554.1L338.67 553.2L338.80 554.0L338.93 554.6L339.07 553.4L339.20 552.5L339.33 553.5L339.47 554.6L339.60 554.6L339.73 554.4L339.87 553.1L340.00 554.6L340.13 554.0L340.27 554.5L340.40 552.7L340.53 553.7L340.67 553.5L340.80 554.6L340.93 554.6L341.07 554.4L341.20 552.1L341.33 554.4L341.47 554.5L341.60 553.7L341.73 552.5L341.87 554.7L342.00 554.1L342.13 553.8L342.27 552.5L342.40 554.0L342.53 553.6L342.67 554.6L342.80 554.8L342.93 547.5L343.07 552.6L343.20 554.0L343.33 554.3L343.47 554.8L343.60 554.6L343.73 553.7L343.87 552.9L344.00 554.1L344.13 554.5L344.27 554.9L344.40 554.7L344.53 554.4L344.67 554.4L344.80 554.1L344.93 553.7L345.07 554.1L345.20 552.6L345.33 554.3L345.47 553.7L345.60 554.2L345.73 552.9L345.87 554.3L346.00 554.4L346.13 554.9L346.27 554.7L346.40 554.7L346.53 554.5L346.67 554.5L346.80 554.0L346.93 553.6L347.07 554.7L347.20 554.4L347.33 552.2L347.47 554.1L347.60 554.2L347.73 554.0L347.87 553.2L348.00 552.3L348.13 554.7L348.27 554.1L348.40 552.9L348.53 554.7L348.67 553.9L348.80 554.1L348.93 554.5L349.07 554.8L349.20 554.3L349.33 553.6L349.47 554.3L349.60 554.6L349.73 553.3L349.87 554.5L350.00 551.0L350.13 550.9L350.27 553.9L350.40 554.5L350.53 554.1L350.67 553.4L350.80 554.3L350.93 553.9L351.07 553.9L351.20 554.9L351.33 552.4L351.47 553.7L351.60 554.5L351.73 554.1L351.87 553.2L352.00 554.0L352.13 553.7L352.27 552.4L352.40 554.3L352.53 554.5L352.67 554.7L352.80 553.4L352.93 553.4L353.07 554.3L353.20 553.5L353.33 554.7L353.47 553.6L353.60 551.8L353.73 552.8L353.87 554.3L354.00 552.9L354.13 554.3L354.27 554.3L354.40 554.8L354.53 553.4L354.67 553.9L354.80 554.7L354.93 554.0L355.07 554.4L355.20 553.9L355.33 555.0L355.47 554.4L355.60 554.2L355.73 554.0L355.87 554.4L356.00 554.6L356.13 553.6L356.27 554.6L356.40 554.5L356.53 554.9L356.67 554.3L356.80 553.6L356.93 554.4L357.07 554.6L357.20 554.8L357.33 553.7L357.47 553.8L357.60 554.6L357.73 554.8L357.87 554.4L358.00 554.3L358.13 554.7L358.27 554.9L358.40 554.4L358.53 554.9L358.67 553.1L358.80 554.3L358.93 554.8L359.07 555.0L359.20 554.8L359.33 554.2L359.47 554.2L359.60 554.9L359.73 555.0L359.87 554.8L360.00 554.9L360.13 553.1L360.27 554.8L360.40 554.9L360.53 554.9L360.67 555.0L360.80 554.8L360.93 553.9L361.07 554.7L361.20 554.6L361.33 554.7L361.47 554.2L361.60 553.7L361.73 554.9L361.87 554.9L362.00 554.2L362.13 554.7L362.27 555.1L362.40 554.6L362.53 549.5L362.67 553.7L362.80 554.1L362.93 554.8L363.07 554.6L363.20 554.9L363.33 555.0L363.47 554.8L363.60 554.6L363.73 554.1L363.87 554.7L364.00 554.5L364.13 554.4L364.27 554.4L364.40 553.2L364.53 554.0L364.67 552.8L364.80 554.1L364.93 552.7L365.07 553.6L365.20 553.9L365.33 552.5L365.47 553.9L365.60 554.2L365.73 554.3L365.87 554.1L366.00 553.5L366.13 553.9L366.27 554.2L366.40 553.4L366.53 554.6L366.67 554.8L366.80 552.5L366.93 553.9L367.07 554.0L367.20 552.4L367.33 553.3L367.47 554.5L367.60 554.2L367.73 554.6L367.87 555.0L368.00 553.7L368.13 554.7L368.27 554.4L368.40 554.4L368.53 553.5L368.67 554.7L368.80 554.8L368.93 553.6L369.07 554.3L369.20 554.7L369.33 554.4L369.47 554.3L369.60 554.2L369.73 554.2L369.87 554.4L370.00 554.8L370.13 553.8L370.27 553.6L370.40 553.9L370.53 555.1L370.67 553.6L370.80 554.3L370.93 554.4L371.07 554.7L371.20 552.8L371.33 554.3L371.47 554.1L371.60 554.9L371.73 553.0L371.87 554.0L372.00 554.7L372.13 554.7L372.27 554.7L372.40 554.8L372.53 553.3L372.67 554.4L372.80 553.8L372.93 552.7L373.07 554.5L373.20 555.0L373.33 554.3L373.47 554.9L373.60 554.6L373.73 554.1L373.87 554.7L374.00 554.8L374.13 554.8L374.27 554.4L374.40 552.8L374.53 554.5L374.67 554.5L374.80 554.7L374.93 554.7L375.07 554.7L375.20 554.7L375.33 554.5L375.47 554.5L375.60 554.4L375.73 554.2L375.87 554.2L376.00 554.1L376.13 554.1L376.27 553.0L376.40 553.6L376.53 554.4L376.67 554.6L376.80 554.3L376.93 553.5L377.07 554.5L377.20 554.5L377.33 554.2L377.47 554.4L377.60 554.5L377.73 554.6L377.87 554.6L378.00 554.9L378.13 553.8L378.27 554.3L378.40 554.4L378.53 554.6L378.67 554.6L378.80 554.2L378.93 554.9L379.07 555.1L379.20 554.5L379.33 552.6L379.47 553.1L379.60 554.5L379.73 552.6L379.87 554.3L380.00 554.3L380.13 554.7L380.27 554.1L380.40 553.9L380.53 554.5L380.67 553.7L380.80 551.8L380.93 554.6L381.07 553.2L381.20 554.2L381.33 551.8L381.47 553.7L381.60 554.4L381.73 554.5L381.87 554.8L382.00 552.6L382.13 553.8L382.27 554.2L382.40 554.1L382.53 554.3L382.67 554.1L382.80 554.4L382.93 553.8L383.07 551.6L383.20 554.5L383.33 554.5L383.47 554.2L383.60 554.5L383.73 554.5L383.87 553.8L384.00 553.9L384.13 553.8L384.27 552.5L384.40 553.1L384.53 552.5L384.67 553.2L384.80 554.3L384.93 553.8L385.07 554.7L385.20 553.9L385.33 554.4L385.47 554.0L385.60 552.9L385.73 553.0L385.87 554.4L386.00 554.6L386.13 552.7L386.27 554.5L386.40 554.1L386.53 554.7L386.67 554.6L386.80 554.2L386.93 554.9L387.07 553.4L387.20 554.7L387.33 554.7L387.47 553.4L387.60 554.5L387.73 553.9L387.87 554.0L388.00 553.5L388.13 554.7L388.27 553.7L388.40 553.5L388.53 554.2L388.67 554.8L388.80 554.3L388.93 552.4L389.07 553.9L389.20 552.9L389.33 554.4L389.47 553.7L389.60 554.4L389.73 554.3L389.87 552.9L390.00 553.8L390.13 552.2L390.27 554.5L390.40 553.5L390.53 554.8L390.67 554.3L390.80 554.3L390.93 554.1L391.07 554.5L391.20 553.5L391.33 551.3L391.47 552.1L391.60 553.8L391.73 553.0L391.87 554.8L392.00 554.0L392.13 552.8L392.27 553.3L392.40 554.0L392.53 554.0L392.67 553.2L392.80 553.7L392.93 554.6L393.07 554.1L393.20 552.6L393.33 554.8L393.47 554.2L393.60 552.2L393.73 554.9L393.87 554.6L394.00 554.1L394.13 554.0L394.27 553.8L394.40 554.7L394.53 555.0L394.67 553.4L394.80 554.5L394.93 553.2L395.07 554.4L395.20 554.4L395.33 553.8L395.47 553.9L395.60 553.8L395.73 554.1L395.87 554.4L396.00 553.2L396.13 553.5L396.27 552.7L396.40 554.4L396.53 554.3L396.67 554.3L396.80 554.6L396.93 553.6L397.07 554.7L397.20 553.5L397.33 553.5L397.47 553.0L397.60 552.0L397.73 554.8L397.87 553.9L398.00 553.8L398.13 553.4L398.27 553.3L398.40 554.3L398.53 553.8L398.67 552.8L398.80 553.6L398.93 554.2L399.07 552.2L399.20 553.9L399.33 554.6L399.47 554.8L399.60 554.1L399.73 554.7L399.87 553.2L400.00 554.4L400.13 553.5L400.27 553.0L400.40 553.9L400.53 554.2L400.67 554.3L400.80 554.2L400.93 554.3L401.07 554.2L401.20 551.3L401.33 552.8L401.47 552.7L401.60 552.7L401.73 553.8L401.87 553.7L402.00 553.2L402.13 554.1L402.27 553.2L402.40 554.6L402.53 552.9L402.67 552.3L402.80 554.0L402.93 552.5L403.07 552.0L403.20 553.5L403.33 552.8L403.47 553.8L403.60 552.6L403.73 551.2L403.87 553.7L404.00 554.0L404.13 553.8L404.27 552.0L404.40 553.3L404.53 554.4L404.67 553.4L404.80 554.6L404.93 550.3L405.07 553.9L405.20 553.6L405.33 552.8L405.47 551.8L405.60 552.2L405.73 550.5L405.87 549.8L406.00 553.9L406.13 554.4L406.27 553.3L406.40 554.5L406.53 553.0L406.67 553.5L406.80 552.9L406.93 554.3L407.07 553.6L407.20 554.5L407.33 550.7L407.47 554.3L407.60 554.2L407.73 553.3L407.87 552.0L408.00 554.7L408.13 553.0L408.27 553.4L408.40 552.1L408.53 554.1L408.67 552.3L408.80 553.8L408.93 554.5L409.07 554.1L409.20 553.8L409.33 553.7L409.47 546.1L409.60 554.6L409.73 552.6L409.87 553.5L410.00 554.1L410.13 553.9L410.27 553.4L410.40 553.3L410.53 549.4L410.67 552.6L410.80 549.2L410.93 551.8L411.07 553.4L411.20 553.5L411.33 552.1L411.47 553.3L411.60 551.7L411.73 552.4L411.87 550.3L412.00 552.5L412.13 552.4L412.27 551.6L412.40 554.7L412.53 553.0L412.67 554.3L412.80 552.2L412.93 553.7L413.07 544.5L413.20 550.2L413.33 554.7L413.47 552.4L413.60 551.6L413.73 554.5L413.87 548.6L414.00 552.2L414.13 552.6L414.27 547.4L414.40 552.7L414.53 550.3L414.67 545.1L414.80 553.7L414.93 554.3L415.07 553.7L415.20 544.2L415.33 551.2L415.47 534.3L415.60 540.6L415.73 549.9L415.87 547.1L416.00 548.1L416.13 554.2L416.27 541.4L416.40 547.2L416.53 549.2L416.67 542.0L416.80 540.5L416.93 553.2L417.07 542.0L417.20 554.1L417.33 542.3L417.47 513.7L417.60 548.1L417.73 547.2L417.87 544.3L418.00 543.8L418.13 545.1L418.27 553.2L418.40 542.2L418.53 549.8L418.67 521.5L418.80 553.6L418.93 542.1L419.07 554.1L419.20 550.9L419.33 552.1L419.47 551.9L419.60 547.2L419.73 552.4L419.87 554.5L420.00 549.5L420.13 553.8L420.27 550.4L420.40 547.7L420.53 546.6L420.67 547.0L420.80 544.1L420.93 552.9L421.07 550.0L421.20 542.3L421.33 551.5L421.47 550.5L421.60 550.0L421.73 553.6L421.87 540.4L422.00 549.8L422.13 547.5L422.27 547.8L422.40 551.4L422.53 549.3L422.67 546.6L422.80 549.3L422.93 539.8L423.07 549.2L423.20 548.7L423.33 549.7L423.47 552.9L423.60 551.2L423.73 537.2L423.87 550.3L424.00 549.5L424.13 550.2L424.27 554.1L424.40 552.0L424.53 552.8L424.67 543.7L424.80 548.7L424.93 550.7L425.07 552.2L425.20 547.4L425.33 547.9L425.47 551.4L425.60 551.4L425.73 550.6L425.87 551.3L426.00 553.3L426.13 548.5L426.27 543.1L426.40 549.0L426.53 548.3L426.67 554.2L426.80 541.5L426.93 553.1L427.07 549.2L427.20 550.6L427.33 552.4L427.47 552.2L427.60 553.4L427.73 550.0L427.87 546.9L428.00 553.6L428.13 552.4L428.27 551.7L428.40 554.0L428.53 553.0L428.67 553.4L428.80 553.6L428.93 549.9L429.07 547.3L429.20 552.5L429.33 552.6L429.47 550.7L429.60 550.7L429.73 553.9L429.87 550.2L430.00 553.6L430.13 547.3L430.27 549.4L430.40 553.8L430.53 552.7L430.67 546.3L430.80 552.6L430.93 551.2L431.07 548.6L431.20 546.5L431.33 551.4L431.47 542.4L431.60 551.2L431.73 546.6L431.87 550.0L432.00 551.3L432.13 541.3L432.27 550.6L432.40 553.6L432.53 553.2L432.67 545.9L432.80 550.1L432.93 548.5L433.07 539.5L433.20 553.4L433.33 550.6L433.47 553.2L433.60 548.5L433.73 545.7L433.87 550.5L434.00 545.2L434.13 552.3L434.27 548.4L434.40 551.2L434.53 552.4L434.67 547.8L434.80 551.0L434.93 543.6L435.07 546.3L435.20 550.7L435.33 552.9L435.47 541.0L435.60 550.2L435.73 549.5L435.87 547.0L436.00 539.5L436.13 550.9L436.27 551.9L436.40 547.1L436.53 550.1L436.67 553.9L436.80 546.7L436.93 551.7L437.07 550.3L437.20 550.6L437.33 549.1L437.47 552.9L437.60 553.1L437.73 552.0L437.87 550.3L438.00 548.9L438.13 551.3L438.27 553.6L438.40 553.5L438.53 552.8L438.67 550.3L438.80 552.2L438.93 553.2L439.07 549.8L439.20 554.0L439.33 553.6L439.47 551.1L439.60 550.3L439.73 551.3L439.87 550.9L440.00 550.0L440.13 549.7L440.27 550.8L440.40 552.5L440.53 550.3L440.67 554.6L440.80 550.1L440.93 552.2L441.07 554.5L441.20 552.8L441.33 551.7L441.47 550.4L441.60 552.1L441.73 550.5L441.87 552.9L442.00 545.8L442.13 542.6L442.27 551.9L442.40 552.4L442.53 540.5L442.67 551.4L442.80 552.3L442.93 553.3L443.07 546.9L443.20 537.1L443.33 550.9L443.47 554.1L443.60 550.8L443.73 541.0L443.87 549.0L444.00 551.0L444.13 545.3L444.27 546.4L444.40 516.8L444.53 548.6L444.67 545.3L444.80 543.1L444.93 548.3L445.07 538.6L445.20 546.4L445.33 550.6L445.47 550.0L445.60 548.1L445.73 550.4L445.87 550.1L446.00 548.5L446.13 552.7L446.27 552.6L446.40 554.2L446.53 552.5L446.67 551.7L446.80 535.6L446.93 549.7L447.07 551.5L447.20 550.2L447.33 553.6L447.47 553.2L447.60 549.6L447.73 552.7L447.87 553.5L448.00 552.1L448.13 549.4L448.27 551.6L448.40 549.6L448.53 553.6L448.67 545.7L448.80 553.8L448.93 553.7L449.07 552.1L449.20 554.2L449.33 549.0L449.47 551.7L449.60 553.8L449.73 541.7L449.87 552.0L450.00 549.1L450.13 552.4L450.27 548.3L450.40 551.4L450.53 542.6L450.67 552.3L450.80 547.4L450.93 536.5L451.07 548.2L451.20 544.4L451.33 552.2L451.47 553.3L451.60 552.2L451.73 550.8L451.87 552.2L452.00 553.9L452.13 552.2L452.27 552.7L452.40 547.7L452.53 550.0L452.67 548.6L452.80 550.5L452.93 546.1L453.07 549.7L453.20 552.6L453.33 547.1L453.47 551.0L453.60 552.7L453.73 549.9L453.87 552.0L454.00 551.2L454.13 551.5L454.27 551.9L454.40 550.9L454.53 551.4L454.67 552.8L454.80 553.1L454.93 551.6L455.07 551.1L455.20 554.0L455.33 552.3L455.47 552.5L455.60 551.9L455.73 554.4L455.87 551.5L456.00 554.3L456.13 547.8L456.27 550.1L456.40 553.8L456.53 553.0L456.67 552.1L456.80 552.2L456.93 553.7L457.07 550.3L457.20 548.4L457.33 551.9L457.47 553.0L457.60 548.5L457.73 551.0L457.87 544.5L458.00 553.6L458.13 554.3L458.27 553.6L458.40 552.6L458.53 549.1L458.67 550.4L458.80 552.9L458.93 551.9L459.07 548.6L459.20 553.8L459.33 553.5L459.47 542.5L459.60 550.1L459.73 550.7L459.87 541.7L460.00 551.4L460.13 550.6L460.27 549.3L460.40 547.1L460.53 552.2L460.67 550.3L460.80 547.9L460.93 549.8L461.07 550.3L461.20 551.6L461.33 550.2L461.47 552.4L461.60 541.5L461.73 553.0L461.87 550.0L462.00 546.3L462.13 552.4L462.27 551.9L462.40 550.6L462.53 551.9L462.67 551.9L462.80 551.2L462.93 553.3L463.07 551.9L463.20 549.9L463.33 549.4L463.47 553.7L463.60 553.0L463.73 552.8L463.87 553.4L464.00 553.4L464.13 553.0L464.27 546.8L464.40 549.8L464.53 550.6L464.67 552.7L464.80 549.2L464.93 554.1L465.07 554.3L465.20 553.2L465.33 553.1L465.47 552.5L465.60 552.7L465.73 554.1L465.87 551.6L466.00 552.2L466.13 545.1L466.27 554.5L466.40 553.8L466.53 551.9L466.67 546.6L466.80 545.4L466.93 549.9L467.07 553.3L467.20 552.8L467.33 553.0L467.47 554.1L467.60 554.2L467.73 548.3L467.87 550.0L468.00 553.0L468.13 551.5L468.27 553.9L468.40 550.5L468.53 552.6L468.67 552.6L468.80 551.5L468.93 552.9L469.07 553.1L469.20 548.0L469.33 550.0L469.47 551.2L469.60 550.8L469.73 552.1L469.87 551.1L470.00 549.4L470.13 553.0L470.27 552.9L470.40 547.2L470.53 551.5L470.67 544.5L470.80 547.7L470.93 542.5L471.07 549.2L471.20 547.5L471.33 547.1L471.47 548.3L471.60 550.0L471.73 551.4L471.87 544.3L472.00 542.5L472.13 551.7L472.27 548.5L472.40 553.6L472.53 551.1L472.67 553.1L472.80 550.7L472.93 547.9L473.07 553.9L473.20 551.4L473.33 547.2L473.47 551.9L473.60 550.0L473.73 552.2L473.87 553.6L474.00 552.0L474.13 551.6L474.27 551.2L474.40 549.6L474.53 545.1L474.67 547.3L474.80 554.0L474.93 552.8L475.07 552.2L475.20 553.0L475.33 552.6L475.47 553.0L475.60 552.5L475.73 552.0L475.87 550.2L476.00 551.6L476.13 553.3L476.27 553.7L476.40 539.0L476.53 551.2L476.67 552.5L476.80 553.1L476.93 551.4L477.07 551.8L477.20 553.8L477.33 546.2L477.47 549.8L477.60 554.5L477.73 546.4L477.87 550.7L478.00 552.9L478.13 553.2L478.27 547.8L478.40 549.9L478.53 553.5L478.67 551.1L478.80 550.3L478.93 553.2L479.07 554.5L479.20 552.7L479.33 550.7L479.47 553.7L479.60 546.6L479.73 549.6L479.87 554.0L480.00 548.8L480.13 549.2L480.27 554.4L480.40 553.3L480.53 548.2L480.67 554.4L480.80 552.6L480.93 552.5L481.07 553.2L481.20 551.5L481.33 551.6L481.47 554.2L481.60 545.7L481.73 551.3L481.87 551.4L482.00 552.9L482.13 553.6L482.27 553.1L482.40 551.6L482.53 553.1L482.67 547.8L482.80 551.7L482.93 554.1L483.07 553.5L483.20 554.0L483.33 547.7L483.47 550.1L483.60 552.3L483.73 553.8L483.87 549.7L484.00 553.8L484.13 550.9L484.27 553.1L484.40 550.7L484.53 540.5L484.67 553.0L484.80 552.3L484.93 552.7L485.07 553.5L485.20 551.4L485.33 550.4L485.47 553.2L485.60 551.6L485.73 553.6L485.87 549.7L486.00 552.3L486.13 552.9L486.27 553.9L486.40 551.2L486.53 548.7L486.67 552.8L486.80 546.2L486.93 551.3L487.07 554.7L487.20 552.3L487.33 551.9L487.47 550.5L487.60 552.6L487.73 548.8L487.87 552.2L488.00 551.2L488.13 551.2L488.27 552.2L488.40 551.1L488.53 553.1L488.67 548.8L488.80 552.6L488.93 554.0L489.07 547.0L489.20 552.9L489.33 551.7L489.47 553.6L489.60 553.0L489.73 553.8L489.87 549.4L490.00 554.5L490.13 551.4L490.27 553.8L490.40 552.9L490.53 553.8L490.67 541.5L490.80 553.3L490.93 553.5L491.07 552.4L491.20 552.7L491.33 549.7L491.47 549.1L491.60 552.1L491.73 553.3L491.87 552.7L492.00 553.6L492.13 550.1L492.27 554.2L492.40 552.9L492.53 552.7L492.67 554.1L492.80 553.5L492.93 554.0L493.07 554.8L493.20 552.7L493.33 554.2L493.47 553.4L493.60 554.0L493.73 552.5L493.87 554.2L494.00 551.8L494.13 551.9L494.27 549.8L494.40 553.2L494.53 553.9L494.67 550.9L494.80 553.2L494.93 553.8L495.07 554.8L495.20 549.9L495.33 554.0L495.47 553.2L495.60 553.4L495.73 553.5L495.87 551.7L496.00 553.0L496.13 554.4L496.27 553.7L496.40 554.2L496.53 553.5L496.67 552.6L496.80 552.6L496.93 548.5L497.07 549.0L497.20 554.0L497.33 551.6L497.47 551.8L497.60 550.6L497.73 553.3L497.87 551.5L498.00 551.2L498.13 544.4L498.27 550.1L498.40 552.6L498.53 550.8L498.67 544.5L498.80 547.4L498.93 549.0L499.07 547.1L499.20 547.3L499.33 547.2L499.47 546.8L499.60 547.7L499.73 547.2L499.87 549.6L500.00 547.6L500.13 553.1L500.27 549.2L500.40 545.3L500.53 548.3L500.67 551.6L500.80 549.7L500.93 544.6L501.07 549.9L501.20 550.1L501.33 550.2L501.47 540.9L501.60 534.3L501.73 544.5L501.87 543.5L502.00 540.8L502.13 542.4L502.27 543.9L502.40 545.5L502.53 548.5L502.67 547.0L502.80 546.4L502.93 546.5L503.07 537.2L503.20 552.2L503.33 547.5L503.47 535.1L503.60 529.1L503.73 544.1L503.87 529.0L504.00 543.5L504.13 548.3L504.27 533.9L504.40 539.9L504.53 545.0L504.67 538.4L504.80 546.7L504.93 540.1L505.07 548.2L505.20 541.3L505.33 521.2L505.47 549.2L505.60 526.3L505.73 546.5L505.87 544.1L506.00 532.1L506.13 542.8L506.27 545.9L506.40 544.6L506.53 541.2L506.67 547.6L506.80 536.3L506.93 548.8L507.07 543.3L507.20 542.0L507.33 536.8L507.47 529.0L507.60 542.3L507.73 543.0L507.87 548.5L508.00 546.9L508.13 546.2L508.27 534.5L508.40 531.0L508.53 538.1L508.67 540.5L508.80 547.9L508.93 541.8L509.07 548.5L509.20 547.8L509.33 545.3L509.47 550.3L509.60 547.9L509.73 541.3L509.87 543.1L510.00 542.9L510.13 539.7L510.27 542.6L510.40 552.3L510.53 545.5L510.67 551.8L510.80 545.1L510.93 545.6L511.07 548.0L511.20 544.8L511.33 518.2L511.47 536.9L511.60 540.2L511.73 551.2L511.87 543.1L512.00 550.9L512.13 547.9L512.27 544.7L512.40 548.9L512.53 539.4L512.67 540.9L512.80 547.2L512.93 549.8L513.07 534.7L513.20 543.8L513.33 548.0L513.47 543.6L513.60 539.3L513.73 550.4L513.87 547.2L514.00 537.6L514.13 548.1L514.27 550.1L514.40 543.2L514.53 532.7L514.67 550.5L514.80 538.0L514.93 530.5L515.07 548.9L515.20 546.8L515.33 543.9L515.47 546.4L515.60 544.5L515.73 540.3L515.87 541.0L516.00 547.2L516.13 536.7L516.27 530.5L516.40 538.9L516.53 537.4L516.67 546.9L516.80 543.4L516.93 549.7L517.07 540.7L517.20 545.9L517.33 544.5L517.47 548.0L517.60 544.3L517.73 547.7L517.87 550.6L518.00 546.7L518.13 545.7L518.27 545.9L518.40 526.5L518.53 542.9L518.67 550.4L518.80 548.6L518.93 545.5L519.07 541.7L519.20 533.8L519.33 541.7L519.47 537.5L519.60 535.9L519.73 539.0L519.87 538.6L520.00 539.0L520.13 544.4L520.27 548.9L520.40 535.8L520.53 535.4L520.67 543.3L520.80 533.6L520.93 543.7L521.07 527.4L521.20 544.2L521.33 547.0L521.47 532.0L521.60 541.1L521.73 542.3L521.87 527.1L522.00 533.2L522.13 537.9L522.27 537.1L522.40 527.6L522.53 537.7L522.67 515.9L522.80 524.9L522.93 533.9L523.07 541.0L523.20 542.4L523.33 530.1L523.47 531.3L523.60 534.1L523.73 522.4L523.87 524.3L524.00 546.3L524.13 526.3L524.27 540.6L524.40 529.0L524.53 533.1L524.67 523.5L524.80 542.7L524.93 522.7L525.07 533.1L525.20 529.2L525.33 543.0L525.47 532.0L525.60 542.2L525.73 536.4L525.87 534.3L526.00 540.0L526.13 522.9L526.27 542.2L526.40 521.3L526.53 525.3L526.67 525.6L526.80 527.5L526.93 525.2L527.07 524.9L527.20 528.9L527.33 529.8L527.47 534.4L527.60 527.2L527.73 534.2L527.87 521.4L528.00 520.0L528.13 527.3L528.27 537.1L528.40 522.6L528.53 517.0L528.67 515.8L528.80 533.3L528.93 517.5L529.07 518.5L529.20 544.2L529.33 540.9L529.47 488.0L529.60 527.1L529.73 544.2L529.87 542.7L530.00 530.6L530.13 534.8L530.27 539.1L530.40 538.2L530.53 535.1L530.67 531.2L530.80 535.0L530.93 521.9L531.07 544.0L531.20 528.6L531.33 528.7L531.47 527.1L531.60 543.1L531.73 527.5L531.87 521.4L532.00 544.4L532.13 539.4L532.27 541.3L532.40 537.9L532.53 547.0L532.67 541.7L532.80 539.6L532.93 547.1L533.07 527.7L533.20 538.5L533.33 541.0L533.47 547.8L533.60 545.0L533.73 537.1L533.87 527.1L534.00 541.3L534.13 539.7L534.27 533.8L534.40 545.6L534.53 526.5L534.67 536.7L534.80 535.7L534.93 532.1L535.07 537.7L535.20 544.6L535.33 544.6L535.47 542.5L535.60 541.8L535.73 534.8L535.87 541.7L536.00 523.0L536.13 533.9L536.27 535.4L536.40 541.4L536.53 487.5L536.67 538.3L536.80 538.9L536.93 534.6L537.07 537.0L537.20 527.0L537.33 539.1L537.47 527.2L537.60 534.8L537.73 542.3L537.87 536.6L538.00 535.1L538.13 546.5L538.27 527.8L538.40 535.0L538.53 526.8L538.67 530.8L538.80 522.8L538.93 517.1L539.07 532.0L539.20 530.5L539.33 536.0L539.47 539.5L539.60 540.3L539.73 545.7L539.87 532.2L540.00 525.9L540.13 518.0L540.27 528.4L540.40 533.5L540.53 543.9L540.67 542.8L540.80 545.7L540.93 526.6L541.07 540.1L541.20 542.9L541.33 522.6L541.47 524.0L541.60 526.8L541.73 543.8L541.87 538.9L542.00 542.0L542.13 542.6L542.27 540.9L542.40 546.1L542.53 523.0L542.67 536.0L542.80 545.1L542.93 544.9L543.07 543.5L543.20 542.9L543.33 535.0L543.47 527.4L543.60 534.6L543.73 537.3L543.87 536.4L544.00 534.9L544.13 543.4L544.27 541.8L544.40 539.1L544.53 544.6L544.67 539.9L544.80 537.5L544.93 545.5L545.07 546.1L545.20 540.5L545.33 544.6L545.47 534.5L545.60 538.8L545.73 532.7L545.87 530.5L546.00 541.5L546.13 539.3L546.27 536.9L546.40 537.2L546.53 505.0L546.67 551.0L546.80 545.8L546.93 535.5L547.07 551.0L547.20 548.0L547.33 547.0L547.47 547.6L547.60 538.1L547.73 533.2L547.87 531.2L548.00 533.2L548.13 543.9L548.27 545.5L548.40 529.4L548.53 539.3L548.67 529.7L548.80 541.3L548.93 545.0L549.07 544.9L549.20 541.0L549.33 541.1L549.47 544.6L549.60 547.6L549.73 546.9L549.87 532.3L550.00 545.2L550.13 541.7L550.27 546.5L550.40 530.7L550.53 545.3L550.67 541.1L550.80 542.0L550.93 546.9L551.07 541.9L551.20 540.1L551.33 544.8L551.47 546.3L551.60 543.0L551.73 540.1L551.87 539.3L552.00 529.1L552.13 528.9L552.27 546.7L552.40 535.8L552.53 542.9L552.67 533.9L552.80 546.3L552.93 539.3L553.07 528.0L553.20 544.0L553.33 543.4L553.47 542.6L553.60 544.1L553.73 529.3L553.87 522.8L554.00 548.3L554.13 543.7L554.27 539.0L554.40 538.2L554.53 540.6L554.67 540.4L554.80 525.5L554.93 540.2L555.07 542.0L555.20 534.0L555.33 537.6L555.47 535.5L555.60 529.1L555.73 525.3L555.87 530.3L556.00 532.5L556.13 532.5L556.27 526.4L556.40 512.1L556.53 541.6L556.67 544.4L556.80 537.7L556.93 544.7L557.07 542.8L557.20 545.4L557.33 541.0L557.47 535.9L557.60 543.2L557.73 537.9L557.87 543.4L558.00 539.4L558.13 538.4L558.27 542.3L558.40 549.0L558.53 540.3L558.67 539.5L558.80 549.2L558.93 545.2L559.07 544.7L559.20 544.5L559.33 545.7L559.47 536.8L559.60 540.4L559.73 543.4L559.87 549.2L560.00 551.2L560.13 545.8L560.27 533.2L560.40 547.0L560.53 547.7L560.67 542.7L560.80 548.7L560.93 527.1L561.07 527.2L561.20 548.2L561.33 538.8L561.47 542.7L561.60 529.1L561.73 543.7L561.87 530.1L562.00 542.1L562.13 542.3L562.27 532.5L562.40 542.8L562.53 546.6L562.67 540.8L562.80 548.5L562.93 533.8L563.07 546.9L563.20 546.1L563.33 549.6L563.47 503.1L563.60 533.7L563.73 540.1L563.87 524.1L564.00 540.9L564.13 540.5L564.27 544.1L564.40 531.5L564.53 546.1L564.67 538.1L564.80 536.6L564.93 539.8L565.07 527.4L565.20 546.5L565.33 536.4L565.47 531.8L565.60 530.3L565.73 529.5L565.87 533.0L566.00 528.6L566.13 532.7L566.27 543.1L566.40 528.5L566.53 541.9L566.67 547.4L566.80 549.4L566.93 544.3L567.07 534.2L567.20 527.4L567.33 542.7L567.47 544.7L567.60 542.0L567.73 544.0L567.87 541.8L568.00 542.8L568.13 538.6L568.27 546.8L568.40 543.0L568.53 538.0L568.67 545.3L568.80 540.3L568.93 541.1L569.07 538.0L569.20 540.9L569.33 544.2L569.47 536.5L569.60 531.2L569.73 538.5L569.87 543.0L570.00 536.8L570.13 543.0L570.27 540.8L570.40 544.1L570.53 539.3L570.67 524.8L570.80 549.6L570.93 548.9L571.07 543.7L571.20 545.7L571.33 549.4L571.47 541.7L571.60 540.8L571.73 549.5L571.87 541.8L572.00 548.1L572.13 540.2L572.27 538.9L572.40 541.0L572.53 544.6L572.67 546.8L572.80 548.0L572.93 532.1L573.07 546.4L573.20 539.3L573.33 539.8L573.47 534.9L573.60 546.9L573.73 543.6L573.87 542.1L574.00 549.6L574.13 541.6L574.27 541.0L574.40 546.1L574.53 544.0L574.67 541.1L574.80 545.7L574.93 534.7L575.07 547.4L575.20 544.6L575.33 547.9L575.47 547.2L575.60 541.9L575.73 544.5L575.87 538.4L576.00 539.9L576.13 540.7L576.27 545.9L576.40 538.8L576.53 544.0L576.67 546.9L576.80 543.5L576.93 536.9L577.07 542.6L577.20 545.1L577.33 545.3L577.47 540.1L577.60 536.8L577.73 546.8L577.87 549.9L578.00 541.0L578.13 542.4L578.27 530.7L578.40 541.0L578.53 544.5L578.67 542.3L578.80 549.0L578.93 542.0L579.07 544.1L579.20 539.9L579.33 539.4L579.47 534.2L579.60 541.5L579.73 536.1L579.87 549.4L580.00 545.1L580.13 540.2L580.27 537.1L580.40 542.3L580.53 540.8L580.67 532.8L580.80 541.6L580.93 541.9L581.07 543.7L581.20 547.6L581.33 547.3L581.47 546.8L581.60 551.3L581.73 537.1L581.87 547.0L582.00 542.2L582.13 544.8L582.27 547.6L582.40 549.0L582.53 540.8L582.67 542.4L582.80 547.6L582.93 540.0L583.07 545.8L583.20 548.7L583.33 548.1L583.47 542.0L583.60 545.9L583.73 547.1L583.87 549.4L584.00 543.2L584.13 541.2L584.27 551.0L584.40 545.6L584.53 543.3L584.67 543.4L584.80 538.4L584.93 544.3L585.07 539.9L585.20 541.8L585.33 522.4L585.47 545.9L585.60 545.6L585.73 543.8L585.87 548.2L586.00 545.8L586.13 539.0L586.27 543.7L586.40 539.6L586.53 549.0L586.67 539.5L586.80 545.5L586.93 544.3L587.07 542.8L587.20 547.2L587.33 540.7L587.47 540.1L587.60 546.0L587.73 538.7L587.87 549.2L588.00 548.5L588.13 545.9L588.27 543.3L588.40 548.8L588.53 546.4L588.67 540.6L588.80 550.4L588.93 543.9L589.07 543.0L589.20 541.9L589.33 549.1L589.47 545.8L589.60 547.0L589.73 545.8L589.87 544.5L590.00 542.6L590.13 541.6L590.27 538.6L590.40 545.8L590.53 544.1L590.67 542.9L590.80 542.8L590.93 535.7L591.07 537.3L591.20 544.3L591.33 545.3L591.47 546.9L591.60 546.3L591.73 548.1L591.87 549.0L592.00 549.1L592.13 540.7L592.27 525.9L592.40 545.8L592.53 539.8L592.67 546.9L592.80 541.5L592.93 549.4L593.07 545.9L593.20 544.3L593.33 544.5L593.47 549.1L593.60 538.0L593.73 547.5L593.87 548.3L594.00 543.2L594.13 547.5L594.27 545.8L594.40 542.7L594.53 539.9L594.67 539.6L594.80 545.4L594.93 541.5L595.07 545.8L595.20 538.5L595.33 548.4L595.47 545.5L595.60 549.5L595.73 541.8L595.87 545.3L596.00 540.5L596.13 545.1L596.27 540.9L596.40 544.9L596.53 545.6L596.67 538.7L596.80 540.4L596.93 539.3L597.07 545.8L597.20 543.8L597.33 543.6L597.47 547.0L597.60 542.4L597.73 546.5L597.87 547.4L598.00 549.7L598.13 546.1L598.27 544.2L598.40 547.8L598.53 547.0L598.67 548.7L598.80 545.2L598.93 549.5L599.07 544.5L599.20 548.8L599.33 539.8L599.47 546.6L599.60 540.1L599.73 549.6L599.87 543.8L600.00 545.8L600.13 538.1L600.27 544.6L600.40 549.2L600.53 547.6L600.67 545.8L600.80 549.0L600.93 547.1L601.07 547.1L601.20 547.6L601.33 546.8L601.47 541.2L601.60 548.9L601.73 546.7L601.87 543.0L602.00 538.5L602.13 545.3L602.27 545.8L602.40 545.5L602.53 545.7L602.67 544.1L602.80 548.4L602.93 546.9L603.07 549.2L603.20 539.3L603.33 545.7L603.47 544.7L603.60 544.8L603.73 543.7L603.87 546.7L604.00 540.4L604.13 546.2L604.27 540.6L604.40 547.1L604.53 546.4L604.67 549.1L604.80 547.3L604.93 546.2L605.07 549.1L605.20 539.3L605.33 544.7L605.47 543.4L605.60 550.9L605.73 549.4L605.87 544.2L606.00 540.8L606.13 545.5L606.27 549.1L606.40 547.5L606.53 546.5L606.67 541.3L606.80 549.4L606.93 545.7L607.07 547.4L607.20 547.3L607.33 547.4L607.47 547.1L607.60 548.4L607.73 548.0L607.87 549.3L608.00 542.7L608.13 549.6L608.27 549.0L608.40 546.5L608.53 543.3L608.67 550.4L608.80 547.6L608.93 544.7L609.07 543.7L609.20 550.2L609.33 549.2L609.47 541.8L609.60 546.4L609.73 545.6L609.87 545.6L610.00 548.2L610.13 542.1L610.27 546.3L610.40 541.9L610.53 546.4L610.67 543.9L610.80 541.2L610.93 548.9L611.07 545.8L611.20 546.8L611.33 549.3L611.47 546.4L611.60 546.3L611.73 544.0L611.87 548.3L612.00 548.8L612.13 550.9L612.27 542.8L612.40 544.8L612.53 548.1L612.67 549.9L612.80 546.2L612.93 550.2L613.07 545.3L613.20 549.7L613.33 549.2L613.47 530.1L613.60 551.4L613.73 546.5L613.87 547.1L614.00 540.3L614.13 544.9L614.27 550.5L614.40 543.2L614.53 540.6L614.67 544.0L614.80 538.7L614.93 547.5L615.07 545.4L615.20 547.4L615.33 541.0L615.47 545.4L615.60 547.4L615.73 545.6L615.87 549.6L616.00 545.8L616.13 547.3L616.27 547.5L616.40 548.9L616.53 548.0L616.67 546.1L616.80 548.9L616.93 543.2L617.07 539.7L617.20 545.1L617.33 547.2L617.47 544.0L617.60 540.4L617.73 540.0L617.87 545.2L618.00 548.1L618.13 547.7L618.27 544.9L618.40 544.8L618.53 546.3L618.67 550.0L618.80 543.6L618.93 550.2L619.07 545.4L619.20 539.4L619.33 546.9L619.47 539.9L619.60 547.6L619.73 546.8L619.87 544.9L620.00 548.7L620.13 544.5L620.27 548.6L620.40 548.2L620.53 542.8L620.67 540.7L620.80 547.9L620.93 550.6L621.07 551.2L621.20 547.3L621.33 549.0L621.47 548.5L621.60 550.1L621.73 546.2L621.87 545.2L622.00 548.7L622.13 544.1L622.27 540.8L622.40 547.5L622.53 543.2L622.67 547.0L622.80 545.8L622.93 544.8L623.07 551.5L623.20 549.8L623.33 548.6L623.47 548.7L623.60 547.3L623.73 544.3L623.87 545.9L624.00 550.8L624.13 548.2L624.27 546.8L624.40 548.4L624.53 548.9L624.67 547.3L624.80 543.8L624.93 541.9L625.07 549.4L625.20 545.1L625.33 550.2L625.47 543.3L625.60 548.1L625.73 547.3L625.87 544.3L626.00 544.8L626.13 545.3L626.27 544.0L626.40 539.8L626.53 543.8L626.67 544.6L626.80 548.2L626.93 542.8L627.07 547.2L627.20 544.2L627.33 545.9L627.47 537.3L627.60 542.7L627.73 546.7L627.87 546.0L628.00 543.7L628.13 546.4L628.27 539.2L628.40 542.3L628.53 546.5L628.67 543.5L628.80 541.7L628.93 548.0L629.07 539.0L629.20 546.8L629.33 545.6L629.47 547.9L629.60 543.4L629.73 545.1L629.87 544.9L630.00 545.0L630.13 547.9L630.27 549.2L630.40 548.6L630.53 546.2L630.67 547.8L630.80 545.1L630.93 547.2L631.07 545.7L631.20 540.1L631.33 543.2L631.47 547.5L631.60 548.0L631.73 547.6L631.87 543.7L632.00 547.5L632.13 539.4L632.27 544.9L632.40 546.4L632.53 540.5L632.67 546.3L632.80 541.2L632.93 546.1L633.07 541.0L633.20 540.6L633.33 545.2L633.47 542.0L633.60 548.7L633.73 541.3L633.87 547.1L634.00 540.8L634.13 548.2L634.27 547.0L634.40 550.0L634.53 542.3L634.67 538.4L634.80 545.7L634.93 551.1L635.07 549.2L635.20 544.0L635.33 544.2L635.47 546.2L635.60 542.4L635.73 544.9L635.87 544.9L636.00 547.9L636.13 547.8L636.27 529.8L636.40 543.1L636.53 548.6L636.67 549.4L636.80 546.5L636.93 544.2L637.07 542.2L637.20 545.7L637.33 546.0L637.47 543.9L637.60 548.5L637.73 545.5L637.87 549.8L638.00 547.2L638.13 549.5L638.27 494.5L638.40 547.0L638.53 545.3L638.67 544.8L638.80 547.2L638.93 545.1L639.07 542.1L639.20 540.3L639.33 530.2L639.47 547.6L639.60 542.6L639.73 548.3L639.87 546.1L640.00 546.1L640.13 541.7L640.27 527.9L640.40 543.9L640.53 538.1L640.67 544.9L640.80 543.0L640.93 544.5L641.07 549.2L641.20 549.3L641.33 546.7L641.47 538.9L641.60 544.8L641.73 546.5L641.87 547.5L642.00 548.9L642.13 539.1L642.27 543.1L642.40 543.5L642.53 545.9L642.67 549.2L642.80 545.5L642.93 547.2L643.07 543.2L643.20 550.1L643.33 548.5L643.47 545.6L643.60 546.1L643.73 548.2L643.87 546.1L644.00 542.4L644.13 548.5L644.27 549.1L644.40 546.8L644.53 544.2L644.67 542.4L644.80 549.9L644.93 544.5L645.07 545.0L645.20 549.8L645.33 546.3L645.47 547.6L645.60 546.6L645.73 539.5L645.87 549.1L646.00 546.5L646.13 548.2L646.27 547.7L646.40 535.5L646.53 545.9L646.67 544.2L646.80 536.0L646.93 543.8L647.07 544.0L647.20 546.5L647.33 549.0L647.47 544.7L647.60 538.2L647.73 545.9L647.87 547.7L648.00 549.4L648.13 546.6L648.27 548.4L648.40 548.7L648.53 548.3L648.67 543.7L648.80 545.0L648.93 544.1L649.07 544.7L649.20 544.2L649.33 548.0L649.47 547.5L649.60 544.5L649.73 544.5L649.87 547.9L650.00 543.6L650.13 542.9L650.27 541.5L650.40 543.6L650.53 543.3L650.67 546.3L650.80 539.3L650.93 547.5L651.07 547.1L651.20 547.5L651.33 544.1L651.47 544.6L651.60 546.8L651.73 543.1L651.87 544.6L652.00 544.4L652.13 546.5L652.27 544.9L652.40 543.5L652.53 543.2L652.67 540.3L652.80 546.9L652.93 537.8L653.07 543.8L653.20 539.6L653.33 547.9L653.47 538.6L653.60 544.4L653.73 545.5L653.87 544.1L654.00 549.8L654.13 547.3L654.27 543.3L654.40 544.4L654.53 546.5L654.67 547.2L654.80 546.9L654.93 548.4L655.07 544.4L655.20 550.7L655.33 541.9L655.47 544.2L655.60 548.7L655.73 550.7L655.87 543.2L656.00 544.5L656.13 548.0L656.27 546.1L656.40 547.2L656.53 543.8L656.67 545.2L656.80 546.6L656.93 546.7L657.07 545.4L657.20 547.3L657.33 526.5L657.47 548.7L657.60 546.0L657.73 539.6L657.87 546.5L658.00 546.2L658.13 545.4L658.27 547.2L658.40 545.8L658.53 550.4L658.67 547.7L658.80 545.5L658.93 547.7L659.07 543.7L659.20 540.2L659.33 542.3L659.47 543.4L659.60 547.2L659.73 548.2L659.87 550.2L660.00 548.8L660.13 541.7L660.27 544.4L660.40 544.6L660.53 546.7L660.67 548.0L660.80 550.4L660.93 545.1L661.07 547.6L661.20 544.7L661.33 545.3L661.47 546.3L661.60 545.2L661.73 546.1L661.87 532.3L662.00 545.9L662.13 545.3L662.27 545.7L662.40 541.8L662.53 548.6L662.67 544.8L662.80 542.7L662.93 544.7L663.07 550.6L663.20 543.7L663.33 543.5L663.47 542.4L663.60 543.3L663.73 538.1L663.87 543.1L664.00 548.3L664.13 548.5L664.27 538.4L664.40 541.1L664.53 547.3L664.67 536.6L664.80 548.2L664.93 543.0L665.07 543.0L665.20 546.9L665.33 543.9L665.47 539.5L665.60 543.7L665.73 545.4L665.87 546.0L666.00 541.4L666.13 541.6L666.27 546.3L666.40 541.7L666.53 542.5L666.67 546.1L666.80 545.1L666.93 547.5L667.07 551.2L667.20 548.3L667.33 542.3L667.47 526.3L667.60 544.8L667.73 547.1L667.87 538.7L668.00 546.5L668.13 543.2L668.27 537.0L668.40 546.6L668.53 546.1L668.67 546.1L668.80 542.5L668.93 547.4L669.07 545.1L669.20 545.5L669.33 548.6L669.47 545.1L669.60 541.5L669.73 544.2L669.87 544.7L670.00 547.4L670.13 548.3L670.27 546.3L670.40 547.7L670.53 549.4L670.67 546.1L670.80 547.6L670.93 549.2L671.07 547.7L671.20 544.9L671.33 548.3L671.47 541.6L671.60 548.1L671.73 542.7L671.87 549.0L672.00 540.5L672.13 546.5L672.27 534.2L672.40 541.5L672.53 544.0L672.67 550.3L672.80 549.3L672.93 548.5L673.07 547.8L673.20 550.0L673.33 550.2L673.47 541.6L673.60 545.3L673.73 542.3L673.87 550.2L674.00 546.2L674.13 540.6L674.27 546.5L674.40 548.5L674.53 546.1L674.67 549.4L674.80 543.4L674.93 550.7L675.07 545.3L675.20 549.6L675.33 546.2L675.47 545.4L675.60 549.7L675.73 549.4L675.87 547.6L676.00 541.9L676.13 550.8L676.27 537.1L676.40 543.3L676.53 549.0L676.67 548.4L676.80 546.0L676.93 546.0L677.07 546.6L677.20 547.1L677.33 547.5L677.47 544.3L677.60 548.9L677.73 545.9L677.87 542.2L678.00 547.1L678.13 542.9L678.27 544.9L678.40 547.0L678.53 544.6L678.67 540.8L678.80 543.9L678.93 541.6L679.07 543.5L679.20 548.1L679.33 535.8L679.47 541.0L679.60 546.0L679.73 544.4L679.87 546.3L680.00 547.4L680.13 533.8L680.27 543.7L680.40 535.4L680.53 541.4L680.67 547.3L680.80 547.6L680.93 541.1L681.07 548.8L681.20 543.1L681.33 544.9L681.47 541.3L681.60 545.2L681.73 546.4L681.87 542.0L682.00 546.8L682.13 549.9L682.27 545.1L682.40 528.9L682.53 544.7L682.67 548.1L682.80 546.6L682.93 548.2L683.07 548.4L683.20 538.9L683.33 545.5L683.47 549.4L683.60 542.6L683.73 550.0L683.87 550.3L684.00 545.3L684.13 540.2L684.27 544.2L684.40 541.9L684.53 544.6L684.67 542.9L684.80 550.0L684.93 546.4L685.07 548.7L685.20 548.8L685.33 549.8L685.47 544.3L685.60 545.2L685.73 541.8L685.87 539.9L686.00 544.4L686.13 547.7L686.27 548.1L686.40 543.8L686.53 540.6L686.67 503.2L686.80 548.1L686.93 546.1L687.07 549.5L687.20 546.8L687.33 547.2L687.47 545.7L687.60 545.5L687.73 536.2L687.87 547.3L688.00 546.8L688.13 547.4L688.27 539.8L688.40 547.8L688.53 550.9L688.67 539.2L688.80 541.1L688.93 539.0L689.07 542.2L689.20 549.6L689.33 547.2L689.47 550.0L689.60 548.0L689.73 551.0L689.87 546.2L690.00 540.4L690.13 549.4L690.27 545.2L690.40 546.8L690.53 547.6L690.67 544.9L690.80 543.4L690.93 546.8L691.07 549.4L691.20 546.6L691.33 546.4L691.47 544.7L691.60 545.9L691.73 546.3L691.87 541.1L692.00 544.6L692.13 537.6L692.27 543.5L692.40 549.6L692.53 546.2L692.67 548.5L692.80 548.4L692.93 547.0L693.07 544.4L693.20 547.6L693.33 539.3L693.47 533.1L693.60 545.5L693.73 543.2L693.87 544.7L694.00 542.8L694.13 546.0L694.27 547.6L694.40 542.6L694.53 540.3L694.67 541.7L694.80 547.6L694.93 549.9L695.07 550.5L695.20 548.0L695.33 548.5L695.47 544.4L695.60 544.6L695.73 548.3L695.87 547.9L696.00 539.1L696.13 550.9L696.27 549.0L696.40 549.8L696.53 545.1L696.67 550.2L696.80 538.9L696.93 540.0L697.07 548.9L697.20 547.4L697.33 546.7L697.47 548.7L697.60 546.4L697.73 546.2L697.87 549.9L698.00 551.2L698.13 547.9L698.27 548.7L698.40 540.0L698.53 549.7L698.67 532.4L698.80 548.0L698.93 547.3L699.07 548.6L699.20 546.8L699.33 546.0L699.47 549.5L699.60 547.9L699.73 546.8L699.87 543.8L700.00 539.5L700.13 548.2L700.27 550.9L700.40 541.1L700.53 547.0L700.67 546.3L700.80 545.7L700.93 544.0L701.07 547.9L701.20 544.5L701.33 545.8L701.47 548.1L701.60 545.5L701.73 547.9L701.87 550.1L702.00 549.9L702.13 549.7L702.27 549.3L702.40 543.0L702.53 550.6L702.67 545.5L702.80 549.2L702.93 549.5L703.07 552.4L703.20 546.5L703.33 546.3L703.47 551.0L703.60 550.0L703.73 544.0L703.87 548.0L704.00 551.9L704.13 548.2L704.27 547.6L704.40 548.1L704.53 551.5L704.67 547.6L704.80 550.7L704.93 547.9L705.07 549.9L705.20 549.5L705.33 551.4L705.47 546.6L705.60 549.4L705.73 551.1L705.87 549.7L706.00 547.6L706.13 549.1L706.27 550.3L706.40 548.0L706.53 550.2L706.67 550.3L706.80 545.1L706.93 550.6L707.07 551.3L707.20 548.4L707.33 548.4L707.47 550.5L707.60 549.2L707.73 549.9L707.87 548.1L708.00 544.8L708.13 552.6L708.27 549.2L708.40 551.8L708.53 547.3L708.67 546.2L708.80 548.6L708.93 549.2L709.07 548.8L709.20 547.5L709.33 547.5L709.47 549.9L709.60 545.8L709.73 550.8L709.87 547.9L710.00 551.4L710.13 548.1L710.27 551.7L710.40 543.5L710.53 548.9L710.67 545.1L710.80 550.6L710.93 544.0L711.07 549.3L711.20 549.3L711.33 550.5L711.47 544.4L711.60 543.8L711.73 550.0L711.87 546.3L712.00 544.9L712.13 546.7L712.27 549.2L712.40 548.0L712.53 551.2L712.67 543.9L712.80 549.9L712.93 543.9L713.07 550.3L713.20 551.9L713.33 547.5L713.47 548.8L713.60 547.2L713.73 550.8L713.87 547.6L714.00 552.1L714.13 551.0L714.27 549.3L714.40 550.6L714.53 551.4L714.67 548.7L714.80 544.7L714.93 551.3L715.07 551.5L715.20 549.2L715.33 551.0L715.47 549.6L715.60 549.5L715.73 549.6L715.87 548.0L716.00 549.6L716.13 551.1L716.27 549.7L716.40 550.3L716.53 549.6L716.67 549.4L716.80 550.8L716.93 551.0L717.07 552.8L717.20 550.3L717.33 548.8L717.47 551.5L717.60 550.8L717.73 549.1L717.87 548.4L718.00 548.5L718.13 547.4L718.27 545.2L718.40 549.3L718.53 546.0L718.67 546.9L718.80 549.4L718.93 541.9L719.07 550.3L719.20 545.3L719.33 547.5L719.47 546.9L719.60 548.0L719.73 546.2L719.87 544.3L720.00 541.8L720.13 548.5L720.27 550.2L720.40 552.8L720.53 548.1L720.67 549.7L720.80 549.0L720.93 550.3L721.07 550.1L721.20 547.7L721.33 549.0L721.47 550.0L721.60 548.0L721.73 548.7L721.87 550.9L722.00 550.2L722.13 551.2L722.27 547.7L722.40 548.9L722.53 550.6L722.67 552.2L722.80 550.0L722.93 549.8L723.07 551.4L723.20 548.6L723.33 552.7L723.47 553.6L723.60 549.5L723.73 552.4L723.87 552.1L724.00 552.6L724.13 551.7L724.27 549.4L724.40 549.6L724.53 551.9L724.67 552.1L724.80 551.3L724.93 551.0L725.07 551.7L725.20 548.7L725.33 552.2L725.47 550.1L725.60 551.2L725.73 550.0L725.87 549.9L726.00 549.3L726.13 552.0L726.27 550.6L726.40 550.3L726.53 548.8L726.67 546.8L726.80 550.1L726.93 549.9L727.07 550.6L727.20 549.0L727.33 548.4L727.47 547.6L727.60 552.5L727.73 547.8L727.87 548.7L728.00 546.3L728.13 544.3L728.27 550.9L728.40 547.0L728.53 548.9L728.67 546.2L728.80 550.6L728.93 546.6L729.07 550.2L729.20 549.6L729.33 550.9L729.47 551.9L729.60 550.2L729.73 550.3L729.87 547.9L730.00 550.6L730.13 549.6L730.27 548.1L730.40 550.4L730.53 552.8L730.67 550.0L730.80 553.2L730.93 547.7L731.07 551.2L731.20 546.0L731.33 549.1L731.47 551.0L731.60 551.7L731.73 550.1L731.87 549.6L732.00 553.0L732.13 547.3L732.27 553.4L732.40 551.6L732.53 553.2L732.67 551.3L732.80 553.0L732.93 551.2L733.07 549.6L733.20 552.4L733.33 548.7L733.47 546.7L733.60 546.4L733.73 551.7L733.87 550.6L734.00 552.4L734.13 551.1L734.27 552.7L734.40 552.0L734.53 548.7L734.67 546.7L734.80 551.8L734.93 551.6L735.07 546.7L735.20 552.3L735.33 552.4L735.47 549.9L735.60 551.3L735.73 550.8L735.87 548.2L736.00 549.2L736.13 550.4L736.27 547.6L736.40 551.8L736.53 548.7L736.67 551.6L736.80 551.9L736.93 551.2L737.07 551.2L737.20 552.5L737.33 551.7L737.47 550.9L737.60 550.2L737.73 549.1L737.87 550.4L738.00 548.0L738.13 550.3L738.27 551.1L738.40 549.4L738.53 550.5L738.67 550.9L738.80 552.3L738.93 547.8L739.07 549.8L739.20 548.5L739.33 549.7L739.47 550.8L739.60 550.6L739.73 551.5L739.87 551.8L740.00 550.6L740.13 550.3L740.27 551.9L740.40 547.0L740.53 548.5L740.67 549.8L740.80 551.9L740.93 549.5L741.07 550.4L741.20 548.3L741.33 543.8L741.47 550.9L741.60 544.3L741.73 551.1L741.87 549.6L742.00 549.7L742.13 548.7L742.27 547.9L742.40 550.3L742.53 551.6L742.67 550.6L742.80 549.5L742.93 551.5L743.07 551.0L743.20 549.7L743.33 548.2L743.47 550.4L743.60 547.9L743.73 548.1L743.87 549.5L744.00 548.7L744.13 549.7L744.27 551.3L744.40 549.8L744.53 550.3L744.67 548.1L744.80 550.3L744.93 549.9L745.07 549.4L745.20 550.7L745.33 548.5L745.47 545.0L745.60 549.9L745.73 550.5L745.87 552.7L746.00 550.1L746.13 550.4L746.27 549.8L746.40 548.5L746.53 550.3L746.67 548.7L746.80 548.3L746.93 550.9L747.07 550.2L747.20 550.4L747.33 548.3L747.47 550.3L747.60 551.3L747.73 549.5L747.87 550.9L748.00 551.5L748.13 549.4L748.27 550.1L748.40 550.2L748.53 550.8L748.67 551.3L748.80 550.9L748.93 549.3L749.07 549.2L749.20 549.1L749.33 550.6L749.47 548.4L749.60 551.3L749.73 549.8L749.87 549.4L750.00 550.5L750.13 550.7L750.27 551.8L750.40 551.5L750.53 550.5L750.67 551.4L750.80 550.2L750.93 547.8L751.07 546.1L751.20 550.3L751.33 550.1L751.47 550.6L751.60 548.9L751.73 550.8L751.87 548.4L752.00 549.3L752.13 549.2L752.27 550.3L752.40 550.7L752.53 552.2L752.67 550.4L752.80 549.1L752.93 549.2L753.07 548.0L753.20 549.4L753.33 549.2L753.47 550.8L753.60 549.9L753.73 551.4L753.87 547.5L754.00 551.4L754.13 549.6L754.27 551.3L754.40 551.4L754.53 549.6L754.67 548.4L754.80 551.4L754.93 551.3L755.07 549.6L755.20 552.0L755.33 549.3L755.47 551.6L755.60 550.2L755.73 550.4L755.87 549.4L756.00 551.0L756.13 551.6L756.27 550.8L756.40 551.0L756.53 550.2L756.67 550.0L756.80 550.6L756.93 551.2L757.07 550.2L757.20 551.6L757.33 550.9L757.47 549.1L757.60 550.9L757.73 541.5L757.87 552.0L758.00 551.0L758.13 547.9L758.27 547.1L758.40 551.8L758.53 548.2L758.67 547.1L758.80 552.1L758.93 548.9L759.07 549.5L759.20 549.6L759.33 549.0L759.47 551.4L759.60 548.5L759.73 549.7L759.87 548.7L760.00 548.9L760.13 550.2L760.27 551.4L760.40 547.0L760.53 548.5L760.67 549.9L760.80 549.9L760.93 548.9L761.07 550.4L761.20 549.5L761.33 549.5L761.47 549.9L761.60 549.0L761.73 548.6L761.87 551.0L762.00 551.1L762.13 550.0L762.27 550.5L762.40 550.0L762.53 550.1L762.67 549.7L762.80 548.2L762.93 549.8L763.07 551.2L763.20 551.7L763.33 549.6L763.47 549.3L763.60 544.4L763.73 550.2L763.87 549.4L764.00 540.9L764.13 549.3L764.27 550.8L764.40 549.4L764.53 548.7L764.67 549.1L764.80 551.5L764.93 549.7L765.07 550.1L765.20 550.2L765.33 550.1L765.47 550.4L765.60 550.3L765.73 550.1L765.87 549.2L766.00 549.6L766.13 551.1L766.27 550.7L766.40 550.4L766.53 550.6L766.67 550.1L766.80 550.5L766.93 551.3L767.07 550.5L767.20 551.8L767.33 551.3L767.47 551.0L767.60 549.2L767.73 551.6L767.87 550.1L768.00 548.4L768.13 550.1L768.27 548.4L768.40 551.7L768.53 549.8L768.67 548.9L768.80 550.2L768.93 551.8L769.07 551.2L769.20 551.9L769.33 551.9L769.47 549.4L769.60 551.1L769.73 550.7L769.87 551.1L770.00 551.6L770.13 551.8L770.27 551.1L770.40 551.7L770.53 551.7L770.67 549.3L770.80 549.7L770.93 549.9L771.07 552.9L771.20 550.5L771.33 550.3L771.47 549.5L771.60 550.4L771.73 548.7L771.87 550.6L772.00 550.6L772.13 550.6L772.27 550.7L772.40 549.8L772.53 549.8L772.67 550.5L772.80 550.3L772.93 550.4L773.07 550.8L773.20 548.0L773.33 551.7L773.47 552.3L773.60 550.5L773.73 549.2L773.87 551.9L774.00 547.8L774.13 543.2L774.27 549.9L774.40 550.2L774.53 550.6L774.67 551.8L774.80 551.2L774.93 551.1L775.07 548.6L775.20 550.7L775.33 549.0L775.47 551.9L775.60 550.8L775.73 551.8L775.87 547.4L776.00 552.5L776.13 544.1L776.27 552.6L776.40 548.8L776.53 547.0L776.67 543.3L776.80 546.6L776.93 548.5L777.07 550.0L777.20 549.3L777.33 551.8L777.47 548.3L777.60 548.9L777.73 547.6L777.87 550.6L778.00 551.0L778.13 546.9L778.27 548.8L778.40 551.8L778.53 530.1L778.67 548.9L778.80 550.0L778.93 550.1L779.07 550.6L779.20 551.3L779.33 548.9L779.47 546.4L779.60 546.6L779.73 550.6L779.87 550.4L780.00 551.8L780.13 545.4L780.27 549.5L780.40 550.9L780.53 551.5L780.67 548.2L780.80 551.1L780.93 551.2L781.07 548.3L781.20 552.0L781.33 548.7L781.47 551.1L781.60 552.8L781.73 552.4L781.87 549.9L782.00 551.4L782.13 551.8L782.27 551.1L782.40 549.4L782.53 551.3L782.67 550.0L782.80 548.2L782.93 549.3L783.07 551.2L783.20 551.0L783.33 550.9L783.47 541.5L783.60 549.1L783.73 550.6L783.87 548.0L784.00 549.6L784.13 547.9L784.27 549.4L784.40 550.8L784.53 550.3L784.67 551.9L784.80 549.3L784.93 550.9L785.07 550.8L785.20 552.7L785.33 551.3L785.47 549.5L785.60 550.7L785.73 551.9L785.87 551.6L786.00 551.8L786.13 552.0L786.27 548.1L786.40 551.3L786.53 549.8L786.67 551.4L786.80 550.0L786.93 550.9L787.07 552.8L787.20 551.5L787.33 549.6L787.47 548.7L787.60 551.4L787.73 552.0L787.87 553.1L788.00 551.6L788.13 548.6L788.27 550.1L788.40 550.1L788.53 549.3L788.67 550.2L788.80 550.7L788.93 551.6L789.07 547.0L789.20 551.4L789.33 551.4L789.47 540.5L789.60 553.2L789.73 551.1L789.87 548.4L790.00 550.4L790.13 550.6L790.27 550.4L790.40 551.1L790.53 551.5L790.67 551.1L790.80 551.8L790.93 550.8L791.07 550.9L791.20 548.0L791.33 552.2L791.47 547.6L791.60 550.5L791.73 552.4L791.87 551.7L792.00 551.6L792.13 552.5L792.27 552.2L792.40 550.1L792.53 550.4L792.67 549.1L792.80 550.2L792.93 552.8L793.07 548.8L793.20 552.1L793.33 550.6L793.47 552.3L793.60 551.4L793.73 550.8L793.87 551.2L794.00 550.3L794.13 548.1L794.27 549.5L794.40 551.8L794.53 542.5L794.67 551.8L794.80 551.1L794.93 549.9L795.07 550.4L795.20 552.2L795.33 553.1L795.47 549.4L795.60 551.3L795.73 550.2L795.87 547.5L796.00 549.8L796.13 551.7L796.27 551.8L796.40 552.3L796.53 551.4L796.67 548.5L796.80 549.5L796.93 548.5L797.07 552.2L797.20 551.5L797.33 549.9L797.47 552.7L797.60 550.5L797.73 550.4L797.87 548.4L798.00 547.2L798.13 550.4L798.27 551.2L798.40 548.6L798.53 548.2L798.67 548.7L798.80 551.1L798.93 550.0L799.07 550.3L799.20 548.8L799.33 548.8L799.47 551.2L799.60 548.3L799.73 552.2L799.87 551.8L800.00 547.1L800.13 550.0L800.27 552.0L800.40 552.0L800.53 550.4L800.67 550.4L800.80 550.7L800.93 552.3L801.07 551.5L801.20 550.1L801.33 549.9L801.47 548.8L801.60 547.6L801.73 551.9L801.87 547.8L802.00 548.8L802.13 551.7L802.27 550.4L802.40 553.5L802.53 550.7L802.67 553.2L802.80 549.6L802.93 551.7L803.07 551.4L803.20 552.1L803.33 550.3L803.47 550.9L803.60 549.0L803.73 548.9L803.87 549.4L804.00 552.6L804.13 552.3L804.27 551.5L804.40 550.2L804.53 548.6L804.67 548.8L804.80 549.1L804.93 547.1L805.07 549.8L805.20 550.9L805.33 551.0L805.47 552.3L805.60 552.7L805.73 550.7L805.87 550.4L806.00 551.5L806.13 551.3L806.27 551.2L806.40 548.5L806.53 553.5L806.67 551.5L806.80 547.2L806.93 550.4L807.07 553.0L807.20 552.6L807.33 549.1L807.47 550.8L807.60 550.8L807.73 551.7L807.87 547.9L808.00 549.5L808.13 552.3L808.27 547.8L808.40 547.0L808.53 551.3L808.67 550.4L808.80 550.3L808.93 551.2L809.07 550.1L809.20 546.9L809.33 552.4L809.47 549.8L809.60 550.9L809.73 550.9L809.87 551.8L810.00 548.4L810.13 552.8L810.27 551.1L810.40 549.7L810.53 553.2L810.67 550.8L810.80 550.2L810.93 551.3L811.07 548.8L811.20 553.9L811.33 551.7L811.47 550.1L811.60 548.9L811.73 552.4L811.87 551.2L812.00 552.8L812.13 552.7L812.27 552.8L812.40 551.4L812.53 553.1L812.67 552.8L812.80 549.3L812.93 550.5L813.07 553.3L813.20 553.4L813.33 553.0L813.47 550.9L813.60 552.1L813.73 553.4L813.87 552.3L814.00 553.0L814.13 549.0L814.27 552.3L814.40 552.8L814.53 550.2L814.67 547.7L814.80 553.2L814.93 548.9L815.07 548.4L815.20 552.3L815.33 551.5L815.47 549.9L815.60 548.6L815.73 553.0L815.87 548.4L816.00 552.4L816.13 551.1L816.27 548.0L816.40 549.7L816.53 552.9L816.67 550.0L816.80 552.5L816.93 548.9L817.07 550.6L817.20 551.1L817.33 550.4L817.47 535.9L817.60 552.1L817.73 552.7L817.87 553.5L818.00 551.6L818.13 553.2L818.27 553.4L818.40 550.0L818.53 550.0L818.67 551.7L818.80 552.5L818.93 545.5L819.07 552.4L819.20 549.6L819.33 553.9L819.47 547.4L819.60 548.1L819.73 550.3L819.87 550.2L820.00 552.5L820.13 553.0L820.27 545.8L820.40 553.0L820.53 542.7L820.67 550.9L820.80 546.3L820.93 551.7L821.07 552.0L821.20 551.1L821.33 552.2L821.47 553.7L821.60 548.2L821.73 550.4L821.87 548.6L822.00 552.2L822.13 550.5L822.27 530.4L822.40 551.6L822.53 551.8L822.67 552.0L822.80 549.8L822.93 552.4L823.07 550.4L823.20 552.9L823.33 551.9L823.47 552.5L823.60 551.9L823.73 549.7L823.87 548.7L824.00 551.4L824.13 551.4L824.27 549.5L824.40 551.8L824.53 553.7L824.67 552.3L824.80 553.1L824.93 551.5L825.07 551.1L825.20 553.7L825.33 552.4L825.47 552.7L825.60 551.2L825.73 553.1L825.87 549.1L826.00 552.8L826.13 548.3L826.27 550.9L826.40 553.5L826.53 552.5L826.67 547.8L826.80 550.8L826.93 552.2L827.07 549.2L827.20 552.1L827.33 549.8L827.47 550.3L827.60 548.2L827.73 552.4L827.87 548.1L828.00 550.9L828.13 551.8L828.27 551.8L828.40 552.4L828.53 550.3L828.67 550.7L828.80 550.0L828.93 549.1L829.07 549.0L829.20 549.0L829.33 550.5L829.47 549.8L829.60 549.0L829.73 552.2L829.87 552.0L830.00 552.5L830.13 552.5L830.27 552.9L830.40 551.8L830.53 552.2L830.67 550.9L830.80 552.4L830.93 550.6L831.07 548.7L831.20 550.1L831.33 550.9L831.47 552.8L831.60 551.5L831.73 552.7L831.87 552.1L832.00 549.5L832.13 552.4L832.27 544.1L832.40 549.7L832.53 551.6L832.67 551.3L832.80 552.3L832.93 549.0L833.07 550.0L833.20 550.3L833.33 549.4L833.47 552.0L833.60 549.3L833.73 551.8L833.87 551.4L834.00 551.5L834.13 551.9L834.27 551.1L834.40 551.0L834.53 553.6L834.67 547.9L834.80 552.2L834.93 549.2L835.07 548.4L835.20 551.2L835.33 551.7L835.47 552.0L835.60 548.5L835.73 548.5L835.87 551.7L836.00 549.4L836.13 551.5L836.27 553.1L836.40 551.4L836.53 551.0L836.67 552.2L836.80 551.9L836.93 552.5L837.07 550.1L837.20 550.8L837.33 552.3L837.47 548.9L837.60 551.0L837.73 550.3L837.87 552.2L838.00 552.0L838.13 549.9L838.27 550.8L838.40 552.1L838.53 551.1L838.67 551.8L838.80 552.1L838.93 549.8L839.07 552.7L839.20 552.9L839.33 552.7L839.47 553.5L839.60 550.9L839.73 552.7L839.87 551.4L840.00 552.4L840.13 553.1L840.27 550.8L840.40 552.3L840.53 551.1L840.67 548.8L840.80 551.5L840.93 551.4L841.07 551.4L841.20 551.8L841.33 552.5L841.47 544.8L841.60 553.5L841.73 552.2L841.87 548.8L842.00 550.3L842.13 543.5L842.27 551.8L842.40 549.0L842.53 546.2L842.67 552.1L842.80 553.1L842.93 552.7L843.07 552.5L843.20 549.2L843.33 552.0L843.47 550.3L843.60 551.4L843.73 552.6L843.87 549.5L844.00 551.2L844.13 551.7L844.27 551.7L844.40 551.9L844.53 551.7L844.67 549.6L844.80 550.5L844.93 549.3L845.07 549.6L845.20 549.1L845.33 552.9L845.47 550.9L845.60 553.2L845.73 550.9L845.87 552.0L846.00 551.8L846.13 552.2L846.27 550.3L846.40 545.5L846.53 549.6L846.67 550.4L846.80 552.1L846.93 551.4L847.07 546.0L847.20 550.8L847.33 548.9L847.47 550.3L847.60 551.4L847.73 545.8L847.87 545.6L848.00 552.6L848.13 545.9L848.27 546.5L848.40 550.7L848.53 546.8L848.67 547.4L848.80 551.5L848.93 552.4L849.07 551.0L849.20 552.3L849.33 551.7L849.47 551.4L849.60 547.7L849.73 552.6L849.87 553.2L850.00 548.3L850.13 552.8L850.27 552.7L850.40 551.5L850.53 552.5L850.67 550.7L850.80 553.3L850.93 549.8L851.07 551.0L851.20 550.5L851.33 551.3L851.47 551.3L851.60 550.1L851.73 550.2L851.87 551.3L852.00 549.5L852.13 551.7L852.27 552.9L852.40 552.0L852.53 550.4L852.67 552.5L852.80 548.8L852.93 549.9L853.07 547.2L853.20 545.5L853.33 553.5L853.47 552.0L853.60 551.2L853.73 551.3L853.87 551.3L854.00 552.7L854.13 550.7L854.27 548.0L854.40 549.8L854.53 549.8L854.67 552.0L854.80 550.8L854.93 550.7L855.07 550.8L855.20 550.3L855.33 553.3L855.47 550.0L855.60 552.1L855.73 552.0L855.87 549.5L856.00 549.3L856.13 552.2L856.27 550.3L856.40 550.6L856.53 553.8L856.67 552.2L856.80 550.8L856.93 553.2L857.07 551.8L857.20 550.7L857.33 548.8L857.47 547.8L857.60 549.6L857.73 551.4L857.87 552.2L858.00 552.4L858.13 549.2L858.27 552.0L858.40 551.6L858.53 551.4L858.67 547.4L858.80 549.9L858.93 552.9L859.07 552.0L859.20 549.5L859.33 551.3L859.47 551.9L859.60 550.7L859.73 550.6L859.87 551.4L860.00 547.4L860.13 549.9L860.27 547.7L860.40 551.6L860.53 549.4L860.67 551.2L860.80 552.4L860.93 550.7L861.07 550.6L861.20 553.0L861.33 552.0L861.47 546.5L861.60 550.0L861.73 551.5L861.87 550.6L862.00 551.8L862.13 552.1L862.27 550.9L862.40 552.9L862.53 551.6L862.67 552.7L862.80 551.2L862.93 549.0L863.07 552.6L863.20 550.4L863.33 551.3L863.47 550.5L863.60 551.9L863.73 549.3L863.87 549.2L864.00 551.3L864.13 552.4L864.27 552.2L864.40 542.5L864.53 551.1L864.67 551.3L864.80 551.7L864.93 549.6L865.07 550.5L865.20 550.3L865.33 548.3L865.47 551.5L865.60 538.2L865.73 546.8L865.87 548.1L866.00 551.0L866.13 549.5L866.27 547.1L866.40 550.9L866.53 550.9L866.67 550.4L866.80 549.7L866.93 548.3L867.07 551.7L867.20 548.3L867.33 546.7L867.47 544.4L867.60 552.2L867.73 551.0L867.87 551.8L868.00 549.8L868.13 550.0L868.27 548.0L868.40 535.0L868.53 548.8L868.67 552.0L868.80 548.9L868.93 549.7L869.07 547.0L869.20 550.1L869.33 550.5L869.47 550.8L869.60 552.0L869.73 546.8L869.87 549.5L870.00 551.6L870.13 548.4L870.27 548.1L870.40 552.0L870.53 550.1L870.67 549.7L870.80 547.4L870.93 549.5L871.07 552.0L871.20 547.9L871.33 550.0L871.47 550.3L871.60 552.0L871.73 551.1L871.87 551.6L872.00 550.7L872.13 549.9L872.27 552.5L872.40 550.5L872.53 551.2L872.67 551.0L872.80 551.2L872.93 551.0L873.07 552.3L873.20 552.1L873.33 551.4L873.47 551.3L873.60 551.8L873.73 552.1L873.87 551.4L874.00 550.1L874.13 551.1L874.27 551.3L874.40 552.4L874.53 551.8L874.67 552.4L874.80 550.7L874.93 551.1L875.07 552.0L875.20 551.6L875.33 551.0L875.47 552.1L875.60 550.4L875.73 552.2L875.87 551.6L876.00 551.4L876.13 552.0L876.27 552.5L876.40 552.6L876.53 551.0L876.67 551.2L876.80 550.3L876.93 551.3L877.07 546.0L877.20 550.8L877.33 551.1L877.47 550.5L877.60 549.6L877.73 550.2L877.87 552.2L878.00 551.8L878.13 552.4L878.27 552.0L878.40 552.2L878.53 548.5L878.67 549.4L878.80 550.4L878.93 552.6L879.07 550.7L879.20 552.3L879.33 550.7L879.47 551.8L879.60 552.7L879.73 549.2L879.87 549.9L880.00 549.4L880.13 551.5L880.27 551.5L880.40 551.8L880.53 551.5L880.67 551.2L880.80 552.0L880.93 551.9L881.07 551.6L881.20 550.6L881.33 551.3L881.47 551.4L881.60 551.2L881.73 552.5L881.87 551.4L882.00 551.9L882.13 551.9L882.27 551.4L882.40 552.3L882.53 549.9L882.67 552.2L882.80 552.0L882.93 548.6L883.07 551.3L883.20 549.5L883.33 551.8L883.47 550.0L883.60 551.8L883.73 551.5L883.87 551.6L884.00 552.2L884.13 551.3L884.27 550.1L884.40 552.7L884.53 549.9L884.67 551.6L884.80 551.7L884.93 550.3L885.07 552.1L885.20 552.1L885.33 551.1L885.47 552.8L885.60 551.7L885.73 552.2L885.87 552.4L886.00 553.0L886.13 551.9L886.27 551.8L886.40 551.2L886.53 553.1L886.67 551.7L886.80 551.9L886.93 551.6L887.07 551.4L887.20 553.0L887.33 553.2L887.47 552.7L887.60 552.8L887.73 551.9L887.87 551.5L888.00 551.5L888.13 551.1L888.27 553.0L888.40 552.0L888.53 552.6L888.67 549.9L888.80 551.5L888.93 549.8L889.07 553.0L889.20 552.0L889.33 552.4L889.47 552.6L889.60 552.0L889.73 549.9L889.87 549.6L890.00 552.5L890.13 550.2L890.27 552.2L890.40 551.6L890.53 549.3L890.67 551.5L890.80 548.5L890.93 549.2L891.07 548.2L891.20 548.9L891.33 551.4L891.47 550.1L891.60 550.8L891.73 548.7L891.87 549.2L892.00 551.4L892.13 546.0L892.27 548.5L892.40 543.3L892.53 552.4L892.67 549.1L892.80 550.8L892.93 551.1L893.07 549.8L893.20 551.7L893.33 552.2L893.47 546.4L893.60 551.6L893.73 551.1L893.87 549.9L894.00 550.2L894.13 551.1L894.27 547.8L894.40 550.5L894.53 550.7L894.67 543.2L894.80 550.7L894.93 547.8L895.07 552.3L895.20 546.5L895.33 550.6L895.47 552.0L895.60 551.0L895.73 549.2L895.87 550.4L896.00 548.8L896.13 550.4L896.27 546.9L896.40 549.5L896.53 551.4L896.67 551.4L896.80 548.4L896.93 546.7L897.07 550.9L897.20 547.1L897.33 549.2L897.47 548.7L897.60 549.5L897.73 549.6L897.87 551.0L898.00 549.2L898.13 550.4L898.27 549.9L898.40 551.5L898.53 547.7L898.67 552.3L898.80 551.2L898.93 550.3L899.07 547.0L899.20 550.3L899.33 549.6L899.47 540.9L899.60 550.9L899.73 548.0L899.87 546.1L900.00 550.8L900.13 551.8L900.27 551.2L900.40 548.2L900.53 550.3L900.67 550.9L900.80 553.3L900.93 546.8L901.07 551.3L901.20 551.3L901.33 546.5L901.47 548.5L901.60 552.5L901.73 548.3L901.87 551.3L902.00 548.9L902.13 551.9L902.27 551.2L902.40 552.0L902.53 549.7L902.67 552.0L902.80 550.2L902.93 547.4L903.07 549.0L903.20 549.4L903.33 551.1L903.47 550.5L903.60 552.3L903.73 547.4L903.87 549.4L904.00 552.0L904.13 552.0L904.27 549.9L904.40 550.1L904.53 548.5L904.67 550.9L904.80 546.5L904.93 547.3L905.07 551.2L905.20 548.1L905.33 547.6L905.47 550.0L905.60 552.9L905.73 552.8L905.87 551.8L906.00 550.6L906.13 548.3L906.27 552.8L906.40 551.9L906.53 552.7L906.67 551.0L906.80 553.2L906.93 550.5L907.07 551.3L907.20 552.3L907.33 550.7L907.47 542.3L907.60 552.2L907.73 552.7L907.87 550.7L908.00 551.9L908.13 551.5L908.27 550.3L908.40 552.2L908.53 550.2L908.67 548.6L908.80 551.3L908.93 550.1L909.07 547.1L909.20 552.7L909.33 550.7L909.47 549.4L909.60 552.8L909.73 550.7L909.87 549.6L910.00 551.5L910.13 551.5L910.27 549.5L910.40 549.4L910.53 550.1L910.67 550.2L910.80 549.1L910.93 550.2L911.07 552.7L911.20 551.8L911.33 546.8L911.47 550.5L911.60 546.7L911.73 550.2L911.87 547.2L912.00 549.5L912.13 550.2L912.27 550.1L912.40 551.6L912.53 549.0L912.67 544.3L912.80 550.7L912.93 548.2L913.07 549.8L913.20 549.1L913.33 549.9L913.47 550.5L913.60 548.2L913.73 550.5L913.87 548.5L914.00 548.8L914.13 546.3L914.27 549.1L914.40 547.1L914.53 549.7L914.67 551.5L914.80 549.8L914.93 547.1L915.07 552.1L915.20 547.9L915.33 550.2L915.47 527.2L915.60 546.9L915.73 548.7L915.87 548.0L916.00 550.2L916.13 548.9L916.27 547.2L916.40 551.8L916.53 548.9L916.67 550.9L916.80 550.3L916.93 545.8L917.07 542.0L917.20 549.4L917.33 548.4L917.47 549.4L917.60 552.4L917.73 547.0L917.87 552.0L918.00 551.4L918.13 546.9L918.27 551.8L918.40 550.5L918.53 549.5L918.67 550.9L918.80 550.9L918.93 547.7L919.07 551.7L919.20 549.2L919.33 547.4L919.47 552.7L919.60 552.1L919.73 552.6L919.87 546.0L920.00 551.0L920.13 548.2L920.27 551.9L920.40 550.9L920.53 551.5L920.67 551.1L920.80 552.2L920.93 552.0L921.07 548.9L921.20 549.8L921.33 550.9L921.47 552.4L921.60 550.1L921.73 551.2L921.87 551.3L922.00 551.7L922.13 551.3L922.27 552.1L922.40 547.1L922.53 551.4L922.67 550.6L922.80 547.2L922.93 549.2L923.07 550.6L923.20 549.0L923.33 553.5L923.47 550.7L923.60 550.6L923.73 549.5L923.87 551.9L924.00 550.4L924.13 548.6L924.27 550.0L924.40 547.7L924.53 553.0L924.67 549.6L924.80 546.6L924.93 552.3L925.07 547.7L925.20 552.0L925.33 552.7L925.47 546.7L925.60 553.4L925.73 550.9L925.87 548.7L926.00 545.5L926.13 547.6L926.27 551.3L926.40 551.4L926.53 551.0L926.67 549.3L926.80 549.5L926.93 549.2L927.07 549.4L927.20 550.7L927.33 551.5L927.47 549.8L927.60 551.9L927.73 552.0L927.87 553.1L928.00 549.3L928.13 552.1L928.27 552.2L928.40 552.8L928.53 550.6L928.67 552.3L928.80 547.8L928.93 549.6L929.07 548.7L929.20 550.3L929.33 552.9L929.47 550.5L929.60 549.4L929.73 548.6L929.87 551.1L930.00 549.8L930.13 552.2L930.27 550.0L930.40 551.7L930.53 548.8L930.67 552.7L930.80 550.9L930.93 550.6L931.07 550.0L931.20 547.3L931.33 549.3L931.47 551.7L931.60 549.8L931.73 551.5L931.87 548.9L932.00 551.0L932.13 552.0L932.27 552.1L932.40 551.3L932.53 551.1L932.67 551.7L932.80 547.4L932.93 549.2L933.07 547.7L933.20 548.8L933.33 552.0L933.47 549.5L933.60 551.9L933.73 551.1L933.87 552.1L934.00 550.6L934.13 552.3L934.27 550.8L934.40 551.9L934.53 551.4L934.67 550.2L934.80 549.4L934.93 549.8L935.07 550.5L935.20 552.4L935.33 553.1L935.47 552.9L935.60 551.9L935.73 551.4L935.87 549.6L936.00 550.2L936.13 549.6L936.27 550.6L936.40 551.1L936.53 550.2L936.67 552.4L936.80 552.5L936.93 550.0L937.07 550.8L937.20 548.4L937.33 552.0L937.47 551.1L937.60 552.2L937.73 552.1L937.87 550.5L938.00 552.6L938.13 552.5L938.27 551.5L938.40 553.0L938.53 551.5L938.67 552.0L938.80 551.0L938.93 551.5L939.07 552.5L939.20 549.4L939.33 551.8L939.47 552.6L939.60 551.4L939.73 548.6L939.87 547.5L940.00 551.8L940.13 552.5L940.27 552.0L940.40 551.4L940.53 549.0L940.67 551.2L940.80 552.5L940.93 549.0L941.07 548.2L941.20 551.8L941.33 550.2L941.47 550.9L941.60 548.8L941.73 548.5L941.87 549.4L942.00 548.1L942.13 549.9L942.27 550.3L942.40 551.7L942.53 551.2L942.67 549.8L942.80 548.9L942.93 552.3L943.07 550.4L943.20 552.5L943.33 552.7L943.47 552.3L943.60 546.0L943.73 550.1L943.87 551.2L944.00 551.5L944.13 551.1L944.27 550.3L944.40 552.1L944.53 550.7L944.67 548.8L944.80 548.7L944.93 550.6L945.07 551.3L945.20 551.7L945.33 553.0L945.47 549.0L945.60 552.5L945.73 551.7L945.87 547.5L946.00 549.2L946.13 551.4L946.27 550.4L946.40 547.8L946.53 551.7L946.67 550.7L946.80 551.7L946.93 550.4L947.07 551.1L947.20 549.0L947.33 552.6L947.47 550.6L947.60 548.2L947.73 552.6L947.87 550.6L948.00 551.7L948.13 551.2L948.27 550.8L948.40 551.0L948.53 551.6L948.67 551.4L948.80 551.8L948.93 551.2L949.07 551.6L949.20 551.7L949.33 552.4L949.47 549.0L949.60 550.3L949.73 547.7L949.87 550.0L950.00 552.1L950.13 552.2L950.27 550.4L950.40 550.1L950.53 551.8L950.67 550.2L950.80 551.2L950.93 552.3L951.07 550.3L951.20 552.2L951.33 549.4L951.47 551.8L951.60 548.6L951.73 551.7L951.87 551.1L952.00 550.0L952.13 552.0L952.27 551.9L952.40 550.7L952.53 551.5L952.67 551.9L952.80 550.8L952.93 551.4L953.07 552.3L953.20 551.3L953.33 550.9L953.47 552.5L953.60 553.0L953.73 548.8L953.87 552.3L954.00 552.1L954.13 552.0L954.27 552.7L954.40 549.1L954.53 552.7L954.67 546.5L954.80 550.0L954.93 552.0L955.07 552.4L955.20 549.1L955.33 551.9L955.47 550.1L955.60 551.8L955.73 550.8L955.87 551.9L956.00 552.0L956.13 551.2L956.27 553.0L956.40 552.0L956.53 552.1L956.67 551.8L956.80 552.6L956.93 551.5L957.07 552.5L957.20 551.4L957.33 551.1L957.47 548.8L957.60 550.4L957.73 552.7L957.87 551.9L958.00 550.9L958.13 546.7L958.27 549.8L958.40 544.8L958.53 550.0L958.67 549.3L958.80 550.6L958.93 546.4L959.07 552.1L959.20 547.2L959.33 545.0L959.47 547.5L959.60 550.6L959.73 549.3L959.87 552.4L960.00 550.1L960.13 552.8L960.27 549.5L960.40 547.9L960.53 549.2L960.67 552.4L960.80 552.0L960.93 552.3L961.07 535.0L961.20 550.5L961.33 544.1L961.47 548.1L961.60 548.7L961.73 552.0L961.87 549.2L962.00 546.3L962.13 545.4L962.27 544.5L962.40 547.3L962.53 551.4L962.67 552.2L962.80 546.5L962.93 549.6L963.07 552.8L963.20 550.4L963.33 529.0L963.47 550.4L963.60 545.3L963.73 546.9L963.87 550.8L964.00 547.0L964.13 551.3L964.27 549.7L964.40 548.0L964.53 544.7L964.67 551.1L964.80 550.0L964.93 550.0L965.07 546.8L965.20 547.1L965.33 544.5L965.47 549.6L965.60 549.4L965.73 549.0L965.87 551.5L966.00 551.0L966.13 551.1L966.27 548.1L966.40 548.3L966.53 544.6L966.67 550.9L966.80 549.8L966.93 551.9L967.07 548.9L967.20 552.3L967.33 551.3L967.47 540.9L967.60 545.1L967.73 551.5L967.87 551.3L968.00 546.2L968.13 551.1L968.27 550.3L968.40 550.1L968.53 546.5L968.67 549.0L968.80 552.8L968.93 550.9L969.07 550.6L969.20 551.8L969.33 550.1L969.47 550.4L969.60 549.4L969.73 550.2L969.87 544.8L970.00 547.4L970.13 548.3L970.27 549.2L970.40 549.0L970.53 552.2L970.67 547.1L970.80 548.6L970.93 550.3L971.07 546.6L971.20 550.0L971.33 552.2L971.47 549.0L971.60 549.6L971.73 549.5L971.87 552.4L972.00 549.5L972.13 551.0L972.27 547.4L972.40 550.8L972.53 548.8L972.67 552.5L972.80 545.7L972.93 550.8L973.07 544.7L973.20 547.9L973.33 550.0L973.47 546.6L973.60 549.5L973.73 547.0L973.87 543.5L974.00 547.3L974.13 545.7L974.27 549.5L974.40 551.6L974.53 548.7L974.67 550.8L974.80 550.4L974.93 551.4L975.07 546.5L975.20 551.4L975.33 550.1L975.47 552.4L975.60 550.9L975.73 551.3L975.87 545.6L976.00 545.0L976.13 549.1L976.27 546.9L976.40 549.3L976.53 548.9L976.67 552.3L976.80 550.4L976.93 552.0L977.07 550.7L977.20 548.4L977.33 549.8L977.47 552.8L977.60 550.7L977.73 551.3L977.87 547.2L978.00 546.3L978.13 553.3L978.27 551.7L978.40 547.9L978.53 546.6L978.67 551.8L978.80 550.3L978.93 552.8L979.07 551.0L979.20 549.6L979.33 552.3L979.47 550.5L979.60 550.9L979.73 549.6L979.87 553.6L980.00 550.8L980.13 551.0L980.27 551.2L980.40 549.7L980.53 548.6L980.67 551.5L980.80 550.2L980.93 551.2L981.07 553.2L981.20 553.0L981.33 552.7L981.47 551.4L981.60 547.6L981.73 550.8L981.87 548.8L982.00 551.1L982.13 552.8L982.27 546.6L982.40 551.5L982.53 552.1L982.67 540.0L982.80 550.7L982.93 547.7L983.07 549.7L983.20 549.5L983.33 551.2L983.47 550.6L983.60 548.2L983.73 545.8L983.87 552.0L984.00 549.8L984.13 551.4L984.27 552.0L984.40 550.1L984.53 547.6L984.67 546.9L984.80 552.7L984.93 550.2L985.07 551.4L985.20 550.9L985.33 553.4L985.47 549.4L985.60 547.6L985.73 551.3L985.87 547.0L986.00 547.9L986.13 551.1L986.27 551.2L986.40 551.3L986.53 547.3L986.67 548.2L986.80 549.3L986.93 552.0L987.07 547.3L987.20 551.1L987.33 551.9L987.47 551.6L987.60 549.5L987.73 550.9L987.87 552.0L988.00 546.9L988.13 549.2L988.27 552.1L988.40 549.5L988.53 550.9L988.67 549.2L988.80 549.7L988.93 552.0L989.07 551.1L989.20 549.3L989.33 546.9L989.47 551.9L989.60 550.7L989.73 550.5L989.87 551.0L990.00 549.1L990.13 550.9L990.27 549.2L990.40 552.6L990.53 549.3L990.67 545.7L990.80 546.8L990.93 547.7L991.07 545.8L991.20 547.0L991.33 548.7L991.47 551.1L991.60 550.1L991.73 552.3L991.87 547.9L992.00 550.7L992.13 550.6L992.27 552.6L992.40 547.3L992.53 547.2L992.67 548.5L992.80 551.5L992.93 551.4L993.07 552.8L993.20 550.4L993.33 550.4L993.47 547.5L993.60 553.1L993.73 552.0L993.87 551.7L994.00 550.5L994.13 549.7L994.27 548.3L994.40 549.9L994.53 551.7L994.67 551.5L994.80 546.5L994.93 549.2L995.07 549.7L995.20 550.9L995.33 548.0L995.47 548.1L995.60 551.3L995.73 552.0L995.87 552.7L996.00 547.9L996.13 550.3L996.27 550.1L996.40 551.0L996.53 550.4L996.67 552.5L996.80 546.1L996.93 548.1L997.07 550.3L997.20 548.8L997.33 548.3L997.47 552.2L997.60 550.8L997.73 547.5L997.87 551.7L998.00 549.5L998.13 548.0L998.27 552.2L998.40 550.6L998.53 544.0L998.67 552.3L998.80 552.1L998.93 547.3L999.07 550.5L999.20 550.9L999.33 549.1L999.47 551.8L999.60 549.4L999.73 547.8L999.87 552.7L1000.00 550.4L1000.13 551.0L1000.27 546.8L1000.40 549.5L1000.53 549.7L1000.67 550.6L1000.80 548.1L1000.93 550.0L1001.07 552.2L1001.20 551.4L1001.33 551.4L1001.47 551.7L1001.60 550.5L1001.73 553.3L1001.87 545.8L1002.00 552.9L1002.13 548.9L1002.27 550.0L1002.40 550.6L1002.53 549.6L1002.67 548.8L1002.80 548.1L1002.93 549.8L1003.07 548.0L1003.20 550.3L1003.33 548.1L1003.47 550.1L1003.60 548.3L1003.73 546.5L1003.87 547.7L1004.00 550.4L1004.13 550.2L1004.27 545.8L1004.40 542.9L1004.53 544.5L1004.67 547.9L1004.80 545.8L1004.93 550.6L1005.07 545.7L1005.20 550.0L1005.33 552.4L1005.47 551.3L1005.60 550.4L1005.73 551.2L1005.87 552.9L1006.00 546.7L1006.13 550.6L1006.27 551.9L1006.40 543.7L1006.53 544.5L1006.67 550.3L1006.80 550.8L1006.93 550.8L1007.07 546.0L1007.20 546.8L1007.33 549.0L1007.47 547.8L1007.60 549.0L1007.73 549.9L1007.87 551.8L1008.00 546.9L1008.13 551.2L1008.27 550.6L1008.40 551.2L1008.53 551.2L1008.67 549.4L1008.80 550.1L1008.93 545.9L1009.07 548.1L1009.20 550.3L1009.33 546.2L1009.47 549.2L1009.60 543.1L1009.73 549.9L1009.87 550.2L1010.00 550.1L1010.13 549.6L1010.27 549.8L1010.40 543.6L1010.53 549.0L1010.67 550.4L1010.80 552.2L1010.93 550.4L1011.07 548.9L1011.20 549.4L1011.33 549.2L1011.47 549.4L1011.60 546.1L1011.73 551.2L1011.87 551.5L1012.00 552.0L1012.13 550.4L1012.27 551.8L1012.40 551.3L1012.53 547.2L1012.67 552.5L1012.80 551.6L1012.93 547.1L1013.07 548.6L1013.20 551.6L1013.33 549.8L1013.47 546.2L1013.60 551.7L1013.73 547.6L1013.87 547.6L1014.00 546.8L1014.13 548.0L1014.27 550.8L1014.40 542.8L1014.53 550.8L1014.67 549.4L1014.80 551.8L1014.93 550.4L1015.07 547.3L1015.20 550.7L1015.33 547.2L1015.47 545.8L1015.60 551.8L1015.73 546.5L1015.87 547.1L1016.00 544.2L1016.13 549.3L1016.27 549.9L1016.40 531.0L1016.53 546.2L1016.67 548.4L1016.80 547.1L1016.93 550.8L1017.07 545.1L1017.20 553.0L1017.33 551.6L1017.47 545.8L1017.60 551.3L1017.73 551.1L1017.87 546.4L1018.00 547.2L1018.13 552.2L1018.27 545.2L1018.40 549.1L1018.53 550.5L1018.67 549.3L1018.80 551.4L1018.93 551.1L1019.07 548.6L1019.20 549.9L1019.33 545.5L1019.47 552.6L1019.60 548.8L1019.73 549.8L1019.87 549.6L1020.00 549.9L1020.13 548.5L1020.27 547.2L1020.40 546.2L1020.53 547.9L1020.67 544.2L1020.80 546.9L1020.93 549.5L1021.07 549.6L1021.20 551.9L1021.33 547.6L1021.47 549.5L1021.60 549.6L1021.73 547.9L1021.87 550.1L1022.00 547.2L1022.13 551.2L1022.27 552.0L1022.40 551.6L1022.53 548.1L1022.67 548.7L1022.80 551.7L1022.93 550.7L1023.07 550.2L1023.20 545.4L1023.33 550.5L1023.47 550.4L1023.60 548.7L1023.73 551.7L1023.87 549.7L1024.00 552.5L1024.13 548.3L1024.27 551.6L1024.40 540.1L1024.53 549.9L1024.67 546.7L1024.80 551.8L1024.93 548.3L1025.07 548.9L1025.20 550.4L1025.33 550.6L1025.47 549.2L1025.60 548.0L1025.73 547.1L1025.87 548.5L1026.00 549.3L1026.13 547.5L1026.27 537.9L1026.40 545.6L1026.53 552.0L1026.67 551.0L1026.80 548.0L1026.93 549.0L1027.07 551.5L1027.20 550.2L1027.33 553.1L1027.47 549.9L1027.60 550.3L1027.73 547.1L1027.87 551.7L1028.00 551.1L1028.13 547.1L1028.27 550.6L1028.40 552.3L1028.53 546.3L1028.67 552.6L1028.80 546.8L1028.93 545.4L1029.07 549.0L1029.20 550.2L1029.33 551.8L1029.47 548.9L1029.60 549.8L1029.73 552.0L1029.87 548.4L1030.00 547.0L1030.13 550.4L1030.27 546.7L1030.40 550.8L1030.53 551.6L1030.67 550.9L1030.80 549.7L1030.93 548.8L1031.07 549.2L1031.20 553.0L1031.33 547.9L1031.47 550.0L1031.60 550.5L1031.73 553.2L1031.87 550.5L1032.00 553.2L1032.13 548.6L1032.27 551.5L1032.40 551.1L1032.53 551.3L1032.67 545.9L1032.80 545.8L1032.93 545.4L1033.07 549.3L1033.20 548.0L1033.33 549.4L1033.47 550.6L1033.60 547.3L1033.73 549.5L1033.87 549.3L1034.00 550.3L1034.13 550.6L1034.27 552.4L1034.40 548.8L1034.53 545.7L1034.67 551.4L1034.80 550.5L1034.93 539.5L1035.07 551.0L1035.20 550.0L1035.33 549.1L1035.47 552.8L1035.60 550.5L1035.73 547.4L1035.87 549.6L1036.00 547.1L1036.13 547.4L1036.27 549.3L1036.40 547.3L1036.53 548.0L1036.67 544.1L1036.80 549.0L1036.93 548.7L1037.07 548.7L1037.20 552.3L1037.33 547.3L1037.47 549.2L1037.60 547.6L1037.73 545.4L1037.87 550.6L1038.00 551.9L1038.13 549.3L1038.27 548.6L1038.40 531.0L1038.53 550.4L1038.67 551.2L1038.80 545.2L1038.93 549.0L1039.07 551.7L1039.20 552.0L1039.33 549.5L1039.47 553.1L1039.60 551.2L1039.73 548.6L1039.87 553.2L1040.00 543.7L1040.13 551.5L1040.27 547.2L1040.40 551.8L1040.53 547.0L1040.67 549.3L1040.80 551.4L1040.93 549.7L1041.07 550.3L1041.20 551.9L1041.33 552.0L1041.47 550.5L1041.60 550.7L1041.73 549.3L1041.87 547.1L1042.00 551.5L1042.13 541.0L1042.27 546.1L1042.40 550.3L1042.53 550.9L1042.67 550.0L1042.80 550.1L1042.93 551.5L1043.07 549.1L1043.20 549.1L1043.33 550.5L1043.47 552.0L1043.60 552.0L1043.73 549.1L1043.87 549.1L1044.00 546.9L1044.13 547.1L1044.27 549.6L1044.40 550.4L1044.53 550.9L1044.67 548.7L1044.80 549.2L1044.93 549.7L1045.07 549.9L1045.20 550.8L1045.33 549.0L1045.47 546.3L1045.60 543.1L1045.73 545.5L1045.87 547.6L1046.00 550.6L1046.13 551.5L1046.27 551.2L1046.40 546.6L1046.53 550.6L1046.67 546.5L1046.80 546.8L1046.93 549.7L1047.07 549.0L1047.20 548.6L1047.33 542.5L1047.47 525.1L1047.60 550.4L1047.73 550.9L1047.87 546.7L1048.00 543.8L1048.13 548.1L1048.27 547.7L1048.40 541.3L1048.53 548.4L1048.67 542.5L1048.80 547.2L1048.93 543.0L1049.07 544.7L1049.20 541.9L1049.33 546.6L1049.47 546.9L1049.60 549.3L1049.73 539.4L1049.87 529.5L1050.00 545.5L1050.13 551.4L1050.27 545.5L1050.40 550.1L1050.53 551.7L1050.67 549.3L1050.80 545.0L1051.45 548.0L1051.55 158.5L1051.65 555.3L1052.30 555.3L1052.40 457.6" fill="none" stroke="#fff" stroke-width="3" stroke-linejoin="round" stroke-linecap="round"/>
<text class="b" x="1.35" y="37.0" font-size="37.8" textLength="79.69" lengthAdjust="spacingAndGlyphs" stroke="#fff" stroke-width="0.7" stroke-linejoin="round">Wild</text>
<text class="b" x="97.31" y="37.0" font-size="37.8" textLength="83.69" lengthAdjust="spacingAndGlyphs" stroke="#fff" stroke-width="0.7" stroke-linejoin="round">Ride</text>
<text class="b" x="1.19" y="69.0" font-size="27.5" textLength="110.87" lengthAdjust="spacingAndGlyphs" stroke="#fff" stroke-width="0.5" stroke-linejoin="round">Friday&#39;s</text>
<text class="b" x="124.96" y="69.0" font-size="27.5" textLength="111.56" lengthAdjust="spacingAndGlyphs" stroke="#fff" stroke-width="0.5" stroke-linejoin="round">intraday</text>
<text class="b" x="250.93" y="69.0" font-size="27.5" textLength="67.12" lengthAdjust="spacingAndGlyphs" stroke="#fff" stroke-width="0.5" stroke-linejoin="round">price</text>
<text class="b" x="330.75" y="69.0" font-size="27.5" textLength="78.82" lengthAdjust="spacingAndGlyphs" stroke="#fff" stroke-width="0.5" stroke-linejoin="round">swing</text>
<text class="b" x="421.83" y="69.0" font-size="27.5" textLength="21.20" lengthAdjust="spacingAndGlyphs" stroke="#fff" stroke-width="0.5" stroke-linejoin="round">is</text>
<text class="b" x="455.25" y="69.0" font-size="27.5" textLength="42.81" lengthAdjust="spacingAndGlyphs" stroke="#fff" stroke-width="0.5" stroke-linejoin="round">the</text>
<text class="b" x="511.55" y="69.0" font-size="27.5" textLength="92.12" lengthAdjust="spacingAndGlyphs" stroke="#fff" stroke-width="0.5" stroke-linejoin="round">second</text>
<text class="b" x="614.69" y="69.0" font-size="27.5" textLength="95.93" lengthAdjust="spacingAndGlyphs" stroke="#fff" stroke-width="0.5" stroke-linejoin="round">largest</text>
<text class="b" x="721.81" y="69.0" font-size="27.5" textLength="31.70" lengthAdjust="spacingAndGlyphs" stroke="#fff" stroke-width="0.5" stroke-linejoin="round">on</text>
<text class="b" x="766.71" y="69.0" font-size="27.5" textLength="88.65" lengthAdjust="spacingAndGlyphs" stroke="#fff" stroke-width="0.5" stroke-linejoin="round">record</text>
<text x="25.24" y="107.0" font-size="18.9" textLength="29.41" lengthAdjust="spacingAndGlyphs">LME</text>
<text x="60.19" y="107.0" font-size="18.9" textLength="51.07" lengthAdjust="spacingAndGlyphs">nickel</text>
<text x="116.47" y="107.0" font-size="18.9" textLength="72.16" lengthAdjust="spacingAndGlyphs">high-low</text>
<text x="196.25" y="107.0" font-size="18.9" textLength="55.23" lengthAdjust="spacingAndGlyphs">spread</text>
<text x="1086.70" y="563.5" font-size="23.6" textLength="10.19" lengthAdjust="spacingAndGlyphs">0</text>
<text x="1087.00" y="484.7" font-size="23.6" textLength="46.71" lengthAdjust="spacingAndGlyphs">5000</text>
<text x="1087.11" y="405.9" font-size="23.6" textLength="58.19" lengthAdjust="spacingAndGlyphs">10000</text>
<text x="1087.11" y="327.1" font-size="23.6" textLength="58.19" lengthAdjust="spacingAndGlyphs">15000</text>
<text x="1085.59" y="248.3" font-size="23.6" textLength="59.72" lengthAdjust="spacingAndGlyphs">20000</text>
<text x="1085.89" y="169.5" font-size="23.6" textLength="59.42" lengthAdjust="spacingAndGlyphs">25000</text>
<text x="137.61" y="642.4" font-size="23.6" textLength="46.60" lengthAdjust="spacingAndGlyphs">1995</text>
<text x="185.52" y="642.4" font-size="23.6" textLength="8.51" lengthAdjust="spacingAndGlyphs">-</text>
<text x="197.10" y="642.4" font-size="23.6" textLength="47.00" lengthAdjust="spacingAndGlyphs">1999</text>
<text x="312.11" y="642.4" font-size="23.6" textLength="46.60" lengthAdjust="spacingAndGlyphs">2000</text>
<text x="360.02" y="642.4" font-size="23.6" textLength="8.51" lengthAdjust="spacingAndGlyphs">-</text>
<text x="371.62" y="642.4" font-size="23.6" textLength="46.08" lengthAdjust="spacingAndGlyphs">2004</text>
<text x="486.61" y="642.4" font-size="23.6" textLength="46.60" lengthAdjust="spacingAndGlyphs">2005</text>
<text x="534.52" y="642.4" font-size="23.6" textLength="8.51" lengthAdjust="spacingAndGlyphs">-</text>
<text x="546.10" y="642.4" font-size="23.6" textLength="47.00" lengthAdjust="spacingAndGlyphs">2009</text>
<text x="660.61" y="642.4" font-size="23.6" textLength="46.60" lengthAdjust="spacingAndGlyphs">2010</text>
<text x="708.52" y="642.4" font-size="23.6" textLength="8.51" lengthAdjust="spacingAndGlyphs">-</text>
<text x="720.12" y="642.4" font-size="23.6" textLength="46.08" lengthAdjust="spacingAndGlyphs">2014</text>
<text x="835.11" y="642.4" font-size="23.6" textLength="46.60" lengthAdjust="spacingAndGlyphs">2015</text>
<text x="883.02" y="642.4" font-size="23.6" textLength="8.51" lengthAdjust="spacingAndGlyphs">-</text>
<text x="894.60" y="642.4" font-size="23.6" textLength="47.00" lengthAdjust="spacingAndGlyphs">2019</text>
<path d="M1077.8 457.5 L1086 444.9 H1169.2 V470 H1086 Z" fill="#fff"/>
<text x="1086.68" y="466.0" font-size="23.6" textLength="78.33" lengthAdjust="spacingAndGlyphs" style="fill:#000">6200.00</text>
<text class="b" x="5.97" y="668.0" font-size="18.9" textLength="73.19" lengthAdjust="spacingAndGlyphs" stroke="#fff" stroke-width="0.35" stroke-linejoin="round">Source:</text>
<text class="b" x="88.42" y="668.0" font-size="18.9" textLength="38.08" lengthAdjust="spacingAndGlyphs" stroke="#fff" stroke-width="0.35" stroke-linejoin="round">LME</text>
<text x="1047.55" y="667.0" font-size="24.8" textLength="120.10" lengthAdjust="spacingAndGlyphs" stroke="#fff" stroke-width="1.1" stroke-linejoin="round">Bloomberg</text>
<g transform="translate(1175.8 0) rotate(90)">
<text x="253.95" y="0" font-size="28.5" textLength="45.63" lengthAdjust="spacingAndGlyphs">U.S.</text>
<text x="310.54" y="0" font-size="28.5" textLength="80.40" lengthAdjust="spacingAndGlyphs">dollars</text>
<text x="401.57" y="0" font-size="28.5" textLength="9.93" lengthAdjust="spacingAndGlyphs">a</text>
<text x="423.30" y="0" font-size="28.5" textLength="37.34" lengthAdjust="spacingAndGlyphs">ton</text>
</g>
<path d="M1180.5 649.1 H1194 a2 2 0 0 1 2 2 V665 a2 2 0 0 1 -2 2 H1190 L1187.4 670 L1184.8 667 H1180.5 a2 2 0 0 1 -2 -2 V651.1 a2 2 0 0 1 2 -2 Z" fill="#fff"/>
<g fill="#000"><rect x="1181.3" y="659.2" width="1.7" height="3.6"/><rect x="1184.9" y="656" width="1.7" height="6.8"/><rect x="1188.2" y="654" width="1.8" height="8.8"/><rect x="1191.8" y="659" width="1.5" height="3.8"/></g>
</svg>
</body></html>
